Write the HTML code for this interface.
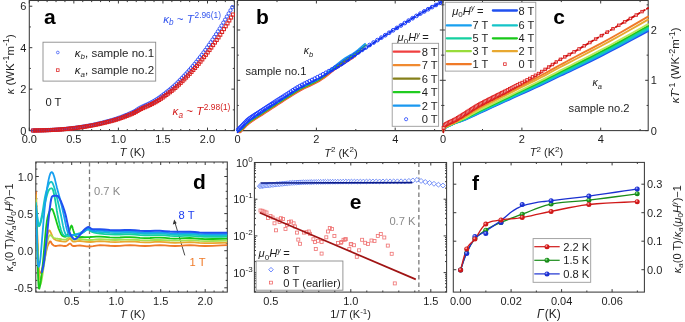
<!DOCTYPE html>
<html><head><meta charset="utf-8"><style>
html,body{margin:0;padding:0;background:#fff;width:685px;height:322px;overflow:hidden}
svg{display:block;font-family:"Liberation Sans",sans-serif;filter:blur(0.3px)}
</style></head><body>
<svg width="685" height="322" viewBox="0 0 685 322">
<defs><clipPath id="clipd"><rect x="35.8" y="162" width="191.5" height="130"/></clipPath></defs>
<rect width="685" height="322" fill="#fff"/>
<rect x="29.30" y="0.50" width="205.10" height="130.10" stroke="#3a3a3a" fill="none" stroke-width="1.05"/>
<line x1="29.30" y1="130.60" x2="29.30" y2="127.60" stroke="#3a3a3a" stroke-width="1" />
<line x1="29.30" y1="0.50" x2="29.30" y2="3.50" stroke="#3a3a3a" stroke-width="1" />
<line x1="73.85" y1="130.60" x2="73.85" y2="127.60" stroke="#3a3a3a" stroke-width="1" />
<line x1="73.85" y1="0.50" x2="73.85" y2="3.50" stroke="#3a3a3a" stroke-width="1" />
<line x1="118.40" y1="130.60" x2="118.40" y2="127.60" stroke="#3a3a3a" stroke-width="1" />
<line x1="118.40" y1="0.50" x2="118.40" y2="3.50" stroke="#3a3a3a" stroke-width="1" />
<line x1="162.95" y1="130.60" x2="162.95" y2="127.60" stroke="#3a3a3a" stroke-width="1" />
<line x1="162.95" y1="0.50" x2="162.95" y2="3.50" stroke="#3a3a3a" stroke-width="1" />
<line x1="207.50" y1="130.60" x2="207.50" y2="127.60" stroke="#3a3a3a" stroke-width="1" />
<line x1="207.50" y1="0.50" x2="207.50" y2="3.50" stroke="#3a3a3a" stroke-width="1" />
<line x1="38.21" y1="130.60" x2="38.21" y2="129.00" stroke="#3a3a3a" stroke-width="1" />
<line x1="38.21" y1="0.50" x2="38.21" y2="2.10" stroke="#3a3a3a" stroke-width="1" />
<line x1="47.12" y1="130.60" x2="47.12" y2="129.00" stroke="#3a3a3a" stroke-width="1" />
<line x1="47.12" y1="0.50" x2="47.12" y2="2.10" stroke="#3a3a3a" stroke-width="1" />
<line x1="56.03" y1="130.60" x2="56.03" y2="129.00" stroke="#3a3a3a" stroke-width="1" />
<line x1="56.03" y1="0.50" x2="56.03" y2="2.10" stroke="#3a3a3a" stroke-width="1" />
<line x1="64.94" y1="130.60" x2="64.94" y2="129.00" stroke="#3a3a3a" stroke-width="1" />
<line x1="64.94" y1="0.50" x2="64.94" y2="2.10" stroke="#3a3a3a" stroke-width="1" />
<line x1="82.76" y1="130.60" x2="82.76" y2="129.00" stroke="#3a3a3a" stroke-width="1" />
<line x1="82.76" y1="0.50" x2="82.76" y2="2.10" stroke="#3a3a3a" stroke-width="1" />
<line x1="91.67" y1="130.60" x2="91.67" y2="129.00" stroke="#3a3a3a" stroke-width="1" />
<line x1="91.67" y1="0.50" x2="91.67" y2="2.10" stroke="#3a3a3a" stroke-width="1" />
<line x1="100.58" y1="130.60" x2="100.58" y2="129.00" stroke="#3a3a3a" stroke-width="1" />
<line x1="100.58" y1="0.50" x2="100.58" y2="2.10" stroke="#3a3a3a" stroke-width="1" />
<line x1="109.49" y1="130.60" x2="109.49" y2="129.00" stroke="#3a3a3a" stroke-width="1" />
<line x1="109.49" y1="0.50" x2="109.49" y2="2.10" stroke="#3a3a3a" stroke-width="1" />
<line x1="127.31" y1="130.60" x2="127.31" y2="129.00" stroke="#3a3a3a" stroke-width="1" />
<line x1="127.31" y1="0.50" x2="127.31" y2="2.10" stroke="#3a3a3a" stroke-width="1" />
<line x1="136.22" y1="130.60" x2="136.22" y2="129.00" stroke="#3a3a3a" stroke-width="1" />
<line x1="136.22" y1="0.50" x2="136.22" y2="2.10" stroke="#3a3a3a" stroke-width="1" />
<line x1="145.13" y1="130.60" x2="145.13" y2="129.00" stroke="#3a3a3a" stroke-width="1" />
<line x1="145.13" y1="0.50" x2="145.13" y2="2.10" stroke="#3a3a3a" stroke-width="1" />
<line x1="154.04" y1="130.60" x2="154.04" y2="129.00" stroke="#3a3a3a" stroke-width="1" />
<line x1="154.04" y1="0.50" x2="154.04" y2="2.10" stroke="#3a3a3a" stroke-width="1" />
<line x1="171.86" y1="130.60" x2="171.86" y2="129.00" stroke="#3a3a3a" stroke-width="1" />
<line x1="171.86" y1="0.50" x2="171.86" y2="2.10" stroke="#3a3a3a" stroke-width="1" />
<line x1="180.77" y1="130.60" x2="180.77" y2="129.00" stroke="#3a3a3a" stroke-width="1" />
<line x1="180.77" y1="0.50" x2="180.77" y2="2.10" stroke="#3a3a3a" stroke-width="1" />
<line x1="189.68" y1="130.60" x2="189.68" y2="129.00" stroke="#3a3a3a" stroke-width="1" />
<line x1="189.68" y1="0.50" x2="189.68" y2="2.10" stroke="#3a3a3a" stroke-width="1" />
<line x1="198.59" y1="130.60" x2="198.59" y2="129.00" stroke="#3a3a3a" stroke-width="1" />
<line x1="198.59" y1="0.50" x2="198.59" y2="2.10" stroke="#3a3a3a" stroke-width="1" />
<line x1="216.41" y1="130.60" x2="216.41" y2="129.00" stroke="#3a3a3a" stroke-width="1" />
<line x1="216.41" y1="0.50" x2="216.41" y2="2.10" stroke="#3a3a3a" stroke-width="1" />
<line x1="225.32" y1="130.60" x2="225.32" y2="129.00" stroke="#3a3a3a" stroke-width="1" />
<line x1="225.32" y1="0.50" x2="225.32" y2="2.10" stroke="#3a3a3a" stroke-width="1" />
<line x1="234.23" y1="130.60" x2="234.23" y2="129.00" stroke="#3a3a3a" stroke-width="1" />
<line x1="234.23" y1="0.50" x2="234.23" y2="2.10" stroke="#3a3a3a" stroke-width="1" />
<line x1="29.30" y1="130.60" x2="32.30" y2="130.60" stroke="#3a3a3a" stroke-width="1" />
<line x1="234.40" y1="130.60" x2="231.40" y2="130.60" stroke="#3a3a3a" stroke-width="1" />
<line x1="29.30" y1="89.14" x2="32.30" y2="89.14" stroke="#3a3a3a" stroke-width="1" />
<line x1="234.40" y1="89.14" x2="231.40" y2="89.14" stroke="#3a3a3a" stroke-width="1" />
<line x1="29.30" y1="47.68" x2="32.30" y2="47.68" stroke="#3a3a3a" stroke-width="1" />
<line x1="234.40" y1="47.68" x2="231.40" y2="47.68" stroke="#3a3a3a" stroke-width="1" />
<line x1="29.30" y1="6.22" x2="32.30" y2="6.22" stroke="#3a3a3a" stroke-width="1" />
<line x1="234.40" y1="6.22" x2="231.40" y2="6.22" stroke="#3a3a3a" stroke-width="1" />
<line x1="29.30" y1="109.87" x2="30.90" y2="109.87" stroke="#3a3a3a" stroke-width="1" />
<line x1="234.40" y1="109.87" x2="232.80" y2="109.87" stroke="#3a3a3a" stroke-width="1" />
<line x1="29.30" y1="68.41" x2="30.90" y2="68.41" stroke="#3a3a3a" stroke-width="1" />
<line x1="234.40" y1="68.41" x2="232.80" y2="68.41" stroke="#3a3a3a" stroke-width="1" />
<line x1="29.30" y1="26.95" x2="30.90" y2="26.95" stroke="#3a3a3a" stroke-width="1" />
<line x1="234.40" y1="26.95" x2="232.80" y2="26.95" stroke="#3a3a3a" stroke-width="1" />
<text x="29.30" y="142.90" font-size="11" text-anchor="middle" fill="#1e1e1e" >0.0</text>
<text x="73.85" y="142.90" font-size="11" text-anchor="middle" fill="#1e1e1e" >0.5</text>
<text x="118.40" y="142.90" font-size="11" text-anchor="middle" fill="#1e1e1e" >1.0</text>
<text x="162.95" y="142.90" font-size="11" text-anchor="middle" fill="#1e1e1e" >1.5</text>
<text x="207.50" y="142.90" font-size="11" text-anchor="middle" fill="#1e1e1e" >2.0</text>
<text x="26.30" y="134.70" font-size="11" text-anchor="end" fill="#1e1e1e" >0</text>
<text x="26.30" y="93.24" font-size="11" text-anchor="end" fill="#1e1e1e" >2</text>
<text x="26.30" y="51.78" font-size="11" text-anchor="end" fill="#1e1e1e" >4</text>
<text x="26.30" y="10.32" font-size="11" text-anchor="end" fill="#1e1e1e" >6</text>
<circle cx="32.50" cy="130.50" r="1.65" fill="none" stroke="#2f4ff5" stroke-width="0.95"/>
<circle cx="34.30" cy="130.46" r="1.65" fill="none" stroke="#2f4ff5" stroke-width="0.95"/>
<circle cx="36.10" cy="130.43" r="1.65" fill="none" stroke="#2f4ff5" stroke-width="0.95"/>
<circle cx="37.90" cy="130.40" r="1.65" fill="none" stroke="#2f4ff5" stroke-width="0.95"/>
<circle cx="39.70" cy="130.36" r="1.65" fill="none" stroke="#2f4ff5" stroke-width="0.95"/>
<circle cx="41.50" cy="130.31" r="1.65" fill="none" stroke="#2f4ff5" stroke-width="0.95"/>
<circle cx="43.30" cy="130.26" r="1.65" fill="none" stroke="#2f4ff5" stroke-width="0.95"/>
<circle cx="45.10" cy="130.20" r="1.65" fill="none" stroke="#2f4ff5" stroke-width="0.95"/>
<circle cx="46.90" cy="130.12" r="1.65" fill="none" stroke="#2f4ff5" stroke-width="0.95"/>
<circle cx="48.70" cy="130.05" r="1.65" fill="none" stroke="#2f4ff5" stroke-width="0.95"/>
<circle cx="50.50" cy="129.97" r="1.65" fill="none" stroke="#2f4ff5" stroke-width="0.95"/>
<circle cx="52.30" cy="129.88" r="1.65" fill="none" stroke="#2f4ff5" stroke-width="0.95"/>
<circle cx="54.10" cy="129.79" r="1.65" fill="none" stroke="#2f4ff5" stroke-width="0.95"/>
<circle cx="55.90" cy="129.68" r="1.65" fill="none" stroke="#2f4ff5" stroke-width="0.95"/>
<circle cx="57.70" cy="129.57" r="1.65" fill="none" stroke="#2f4ff5" stroke-width="0.95"/>
<circle cx="59.50" cy="129.44" r="1.65" fill="none" stroke="#2f4ff5" stroke-width="0.95"/>
<circle cx="61.30" cy="129.29" r="1.65" fill="none" stroke="#2f4ff5" stroke-width="0.95"/>
<circle cx="63.10" cy="129.13" r="1.65" fill="none" stroke="#2f4ff5" stroke-width="0.95"/>
<circle cx="64.90" cy="128.96" r="1.65" fill="none" stroke="#2f4ff5" stroke-width="0.95"/>
<circle cx="66.70" cy="128.78" r="1.65" fill="none" stroke="#2f4ff5" stroke-width="0.95"/>
<circle cx="68.50" cy="128.59" r="1.65" fill="none" stroke="#2f4ff5" stroke-width="0.95"/>
<circle cx="70.30" cy="128.38" r="1.65" fill="none" stroke="#2f4ff5" stroke-width="0.95"/>
<circle cx="72.10" cy="128.17" r="1.65" fill="none" stroke="#2f4ff5" stroke-width="0.95"/>
<circle cx="73.90" cy="127.94" r="1.65" fill="none" stroke="#2f4ff5" stroke-width="0.95"/>
<circle cx="75.70" cy="127.70" r="1.65" fill="none" stroke="#2f4ff5" stroke-width="0.95"/>
<circle cx="77.50" cy="127.46" r="1.65" fill="none" stroke="#2f4ff5" stroke-width="0.95"/>
<circle cx="79.30" cy="127.19" r="1.65" fill="none" stroke="#2f4ff5" stroke-width="0.95"/>
<circle cx="81.10" cy="126.93" r="1.65" fill="none" stroke="#2f4ff5" stroke-width="0.95"/>
<circle cx="82.90" cy="126.64" r="1.65" fill="none" stroke="#2f4ff5" stroke-width="0.95"/>
<circle cx="84.70" cy="126.35" r="1.65" fill="none" stroke="#2f4ff5" stroke-width="0.95"/>
<circle cx="86.50" cy="126.04" r="1.65" fill="none" stroke="#2f4ff5" stroke-width="0.95"/>
<circle cx="88.30" cy="125.71" r="1.65" fill="none" stroke="#2f4ff5" stroke-width="0.95"/>
<circle cx="90.10" cy="125.38" r="1.65" fill="none" stroke="#2f4ff5" stroke-width="0.95"/>
<circle cx="91.90" cy="125.02" r="1.65" fill="none" stroke="#2f4ff5" stroke-width="0.95"/>
<circle cx="93.70" cy="124.65" r="1.65" fill="none" stroke="#2f4ff5" stroke-width="0.95"/>
<circle cx="95.50" cy="124.26" r="1.65" fill="none" stroke="#2f4ff5" stroke-width="0.95"/>
<circle cx="97.30" cy="123.85" r="1.65" fill="none" stroke="#2f4ff5" stroke-width="0.95"/>
<circle cx="99.10" cy="123.42" r="1.65" fill="none" stroke="#2f4ff5" stroke-width="0.95"/>
<circle cx="100.90" cy="122.99" r="1.65" fill="none" stroke="#2f4ff5" stroke-width="0.95"/>
<circle cx="102.70" cy="122.53" r="1.65" fill="none" stroke="#2f4ff5" stroke-width="0.95"/>
<circle cx="104.50" cy="122.07" r="1.65" fill="none" stroke="#2f4ff5" stroke-width="0.95"/>
<circle cx="106.30" cy="121.60" r="1.65" fill="none" stroke="#2f4ff5" stroke-width="0.95"/>
<circle cx="108.10" cy="121.12" r="1.65" fill="none" stroke="#2f4ff5" stroke-width="0.95"/>
<circle cx="109.90" cy="120.63" r="1.65" fill="none" stroke="#2f4ff5" stroke-width="0.95"/>
<circle cx="111.70" cy="120.12" r="1.65" fill="none" stroke="#2f4ff5" stroke-width="0.95"/>
<circle cx="113.50" cy="119.58" r="1.65" fill="none" stroke="#2f4ff5" stroke-width="0.95"/>
<circle cx="115.30" cy="119.03" r="1.65" fill="none" stroke="#2f4ff5" stroke-width="0.95"/>
<circle cx="117.10" cy="118.44" r="1.65" fill="none" stroke="#2f4ff5" stroke-width="0.95"/>
<circle cx="118.90" cy="117.82" r="1.65" fill="none" stroke="#2f4ff5" stroke-width="0.95"/>
<circle cx="120.70" cy="117.15" r="1.65" fill="none" stroke="#2f4ff5" stroke-width="0.95"/>
<circle cx="122.50" cy="116.47" r="1.65" fill="none" stroke="#2f4ff5" stroke-width="0.95"/>
<circle cx="124.30" cy="115.76" r="1.65" fill="none" stroke="#2f4ff5" stroke-width="0.95"/>
<circle cx="126.10" cy="115.02" r="1.65" fill="none" stroke="#2f4ff5" stroke-width="0.95"/>
<circle cx="127.90" cy="114.27" r="1.65" fill="none" stroke="#2f4ff5" stroke-width="0.95"/>
<circle cx="129.70" cy="113.49" r="1.65" fill="none" stroke="#2f4ff5" stroke-width="0.95"/>
<circle cx="131.50" cy="112.69" r="1.65" fill="none" stroke="#2f4ff5" stroke-width="0.95"/>
<circle cx="133.30" cy="111.85" r="1.65" fill="none" stroke="#2f4ff5" stroke-width="0.95"/>
<circle cx="135.10" cy="110.89" r="1.65" fill="none" stroke="#2f4ff5" stroke-width="0.95"/>
<circle cx="136.90" cy="109.69" r="1.65" fill="none" stroke="#2f4ff5" stroke-width="0.95"/>
<circle cx="138.70" cy="108.54" r="1.65" fill="none" stroke="#2f4ff5" stroke-width="0.95"/>
<circle cx="140.50" cy="107.55" r="1.65" fill="none" stroke="#2f4ff5" stroke-width="0.95"/>
<circle cx="142.30" cy="106.66" r="1.65" fill="none" stroke="#2f4ff5" stroke-width="0.95"/>
<circle cx="144.10" cy="105.81" r="1.65" fill="none" stroke="#2f4ff5" stroke-width="0.95"/>
<circle cx="145.90" cy="104.97" r="1.65" fill="none" stroke="#2f4ff5" stroke-width="0.95"/>
<circle cx="147.70" cy="104.13" r="1.65" fill="none" stroke="#2f4ff5" stroke-width="0.95"/>
<circle cx="149.50" cy="103.26" r="1.65" fill="none" stroke="#2f4ff5" stroke-width="0.95"/>
<circle cx="151.30" cy="102.35" r="1.65" fill="none" stroke="#2f4ff5" stroke-width="0.95"/>
<circle cx="153.10" cy="101.38" r="1.65" fill="none" stroke="#2f4ff5" stroke-width="0.95"/>
<circle cx="154.90" cy="100.35" r="1.65" fill="none" stroke="#2f4ff5" stroke-width="0.95"/>
<circle cx="156.70" cy="99.20" r="1.65" fill="none" stroke="#2f4ff5" stroke-width="0.95"/>
<circle cx="158.50" cy="98.01" r="1.65" fill="none" stroke="#2f4ff5" stroke-width="0.95"/>
<circle cx="160.30" cy="96.72" r="1.65" fill="none" stroke="#2f4ff5" stroke-width="0.95"/>
<circle cx="162.10" cy="95.42" r="1.65" fill="none" stroke="#2f4ff5" stroke-width="0.95"/>
<circle cx="163.90" cy="94.04" r="1.65" fill="none" stroke="#2f4ff5" stroke-width="0.95"/>
<circle cx="165.70" cy="92.66" r="1.65" fill="none" stroke="#2f4ff5" stroke-width="0.95"/>
<circle cx="167.50" cy="91.23" r="1.65" fill="none" stroke="#2f4ff5" stroke-width="0.95"/>
<circle cx="169.30" cy="89.78" r="1.65" fill="none" stroke="#2f4ff5" stroke-width="0.95"/>
<circle cx="171.10" cy="88.32" r="1.65" fill="none" stroke="#2f4ff5" stroke-width="0.95"/>
<circle cx="172.90" cy="86.79" r="1.65" fill="none" stroke="#2f4ff5" stroke-width="0.95"/>
<circle cx="174.70" cy="85.17" r="1.65" fill="none" stroke="#2f4ff5" stroke-width="0.95"/>
<circle cx="176.50" cy="83.45" r="1.65" fill="none" stroke="#2f4ff5" stroke-width="0.95"/>
<circle cx="178.30" cy="81.63" r="1.65" fill="none" stroke="#2f4ff5" stroke-width="0.95"/>
<circle cx="180.10" cy="79.80" r="1.65" fill="none" stroke="#2f4ff5" stroke-width="0.95"/>
<circle cx="181.90" cy="77.96" r="1.65" fill="none" stroke="#2f4ff5" stroke-width="0.95"/>
<circle cx="183.70" cy="76.08" r="1.65" fill="none" stroke="#2f4ff5" stroke-width="0.95"/>
<circle cx="185.50" cy="74.17" r="1.65" fill="none" stroke="#2f4ff5" stroke-width="0.95"/>
<circle cx="187.30" cy="72.21" r="1.65" fill="none" stroke="#2f4ff5" stroke-width="0.95"/>
<circle cx="189.10" cy="70.21" r="1.65" fill="none" stroke="#2f4ff5" stroke-width="0.95"/>
<circle cx="190.90" cy="68.16" r="1.65" fill="none" stroke="#2f4ff5" stroke-width="0.95"/>
<circle cx="192.70" cy="66.07" r="1.65" fill="none" stroke="#2f4ff5" stroke-width="0.95"/>
<circle cx="194.50" cy="63.94" r="1.65" fill="none" stroke="#2f4ff5" stroke-width="0.95"/>
<circle cx="196.30" cy="61.76" r="1.65" fill="none" stroke="#2f4ff5" stroke-width="0.95"/>
<circle cx="198.10" cy="59.52" r="1.65" fill="none" stroke="#2f4ff5" stroke-width="0.95"/>
<circle cx="199.90" cy="57.23" r="1.65" fill="none" stroke="#2f4ff5" stroke-width="0.95"/>
<circle cx="201.70" cy="54.87" r="1.65" fill="none" stroke="#2f4ff5" stroke-width="0.95"/>
<circle cx="203.50" cy="52.44" r="1.65" fill="none" stroke="#2f4ff5" stroke-width="0.95"/>
<circle cx="205.30" cy="49.97" r="1.65" fill="none" stroke="#2f4ff5" stroke-width="0.95"/>
<circle cx="207.10" cy="47.45" r="1.65" fill="none" stroke="#2f4ff5" stroke-width="0.95"/>
<circle cx="208.90" cy="44.88" r="1.65" fill="none" stroke="#2f4ff5" stroke-width="0.95"/>
<circle cx="210.70" cy="42.28" r="1.65" fill="none" stroke="#2f4ff5" stroke-width="0.95"/>
<circle cx="212.50" cy="39.63" r="1.65" fill="none" stroke="#2f4ff5" stroke-width="0.95"/>
<circle cx="214.30" cy="36.95" r="1.65" fill="none" stroke="#2f4ff5" stroke-width="0.95"/>
<circle cx="216.10" cy="34.21" r="1.65" fill="none" stroke="#2f4ff5" stroke-width="0.95"/>
<circle cx="217.90" cy="31.43" r="1.65" fill="none" stroke="#2f4ff5" stroke-width="0.95"/>
<circle cx="219.70" cy="28.58" r="1.65" fill="none" stroke="#2f4ff5" stroke-width="0.95"/>
<circle cx="221.50" cy="25.65" r="1.65" fill="none" stroke="#2f4ff5" stroke-width="0.95"/>
<circle cx="223.30" cy="22.65" r="1.65" fill="none" stroke="#2f4ff5" stroke-width="0.95"/>
<circle cx="225.10" cy="19.61" r="1.65" fill="none" stroke="#2f4ff5" stroke-width="0.95"/>
<circle cx="226.90" cy="16.53" r="1.65" fill="none" stroke="#2f4ff5" stroke-width="0.95"/>
<circle cx="228.70" cy="13.44" r="1.65" fill="none" stroke="#2f4ff5" stroke-width="0.95"/>
<circle cx="230.50" cy="10.33" r="1.65" fill="none" stroke="#2f4ff5" stroke-width="0.95"/>
<circle cx="232.30" cy="7.14" r="1.65" fill="none" stroke="#2f4ff5" stroke-width="0.95"/>
<rect x="31.55" y="128.96" width="3.1" height="3.1" fill="none" stroke="#da1c1c" stroke-width="0.95"/>
<rect x="33.35" y="128.92" width="3.1" height="3.1" fill="none" stroke="#da1c1c" stroke-width="0.95"/>
<rect x="35.15" y="128.89" width="3.1" height="3.1" fill="none" stroke="#da1c1c" stroke-width="0.95"/>
<rect x="36.95" y="128.86" width="3.1" height="3.1" fill="none" stroke="#da1c1c" stroke-width="0.95"/>
<rect x="38.75" y="128.82" width="3.1" height="3.1" fill="none" stroke="#da1c1c" stroke-width="0.95"/>
<rect x="40.55" y="128.78" width="3.1" height="3.1" fill="none" stroke="#da1c1c" stroke-width="0.95"/>
<rect x="42.35" y="128.73" width="3.1" height="3.1" fill="none" stroke="#da1c1c" stroke-width="0.95"/>
<rect x="44.15" y="128.67" width="3.1" height="3.1" fill="none" stroke="#da1c1c" stroke-width="0.95"/>
<rect x="45.95" y="128.60" width="3.1" height="3.1" fill="none" stroke="#da1c1c" stroke-width="0.95"/>
<rect x="47.75" y="128.53" width="3.1" height="3.1" fill="none" stroke="#da1c1c" stroke-width="0.95"/>
<rect x="49.55" y="128.46" width="3.1" height="3.1" fill="none" stroke="#da1c1c" stroke-width="0.95"/>
<rect x="51.35" y="128.37" width="3.1" height="3.1" fill="none" stroke="#da1c1c" stroke-width="0.95"/>
<rect x="53.15" y="128.29" width="3.1" height="3.1" fill="none" stroke="#da1c1c" stroke-width="0.95"/>
<rect x="54.95" y="128.19" width="3.1" height="3.1" fill="none" stroke="#da1c1c" stroke-width="0.95"/>
<rect x="56.75" y="128.08" width="3.1" height="3.1" fill="none" stroke="#da1c1c" stroke-width="0.95"/>
<rect x="58.55" y="127.96" width="3.1" height="3.1" fill="none" stroke="#da1c1c" stroke-width="0.95"/>
<rect x="60.35" y="127.82" width="3.1" height="3.1" fill="none" stroke="#da1c1c" stroke-width="0.95"/>
<rect x="62.15" y="127.67" width="3.1" height="3.1" fill="none" stroke="#da1c1c" stroke-width="0.95"/>
<rect x="63.95" y="127.51" width="3.1" height="3.1" fill="none" stroke="#da1c1c" stroke-width="0.95"/>
<rect x="65.75" y="127.34" width="3.1" height="3.1" fill="none" stroke="#da1c1c" stroke-width="0.95"/>
<rect x="67.55" y="127.16" width="3.1" height="3.1" fill="none" stroke="#da1c1c" stroke-width="0.95"/>
<rect x="69.35" y="126.97" width="3.1" height="3.1" fill="none" stroke="#da1c1c" stroke-width="0.95"/>
<rect x="71.15" y="126.77" width="3.1" height="3.1" fill="none" stroke="#da1c1c" stroke-width="0.95"/>
<rect x="72.95" y="126.55" width="3.1" height="3.1" fill="none" stroke="#da1c1c" stroke-width="0.95"/>
<rect x="74.75" y="126.33" width="3.1" height="3.1" fill="none" stroke="#da1c1c" stroke-width="0.95"/>
<rect x="76.55" y="126.09" width="3.1" height="3.1" fill="none" stroke="#da1c1c" stroke-width="0.95"/>
<rect x="78.35" y="125.85" width="3.1" height="3.1" fill="none" stroke="#da1c1c" stroke-width="0.95"/>
<rect x="80.15" y="125.60" width="3.1" height="3.1" fill="none" stroke="#da1c1c" stroke-width="0.95"/>
<rect x="81.95" y="125.33" width="3.1" height="3.1" fill="none" stroke="#da1c1c" stroke-width="0.95"/>
<rect x="83.75" y="125.05" width="3.1" height="3.1" fill="none" stroke="#da1c1c" stroke-width="0.95"/>
<rect x="85.55" y="124.76" width="3.1" height="3.1" fill="none" stroke="#da1c1c" stroke-width="0.95"/>
<rect x="87.35" y="124.46" width="3.1" height="3.1" fill="none" stroke="#da1c1c" stroke-width="0.95"/>
<rect x="89.15" y="124.14" width="3.1" height="3.1" fill="none" stroke="#da1c1c" stroke-width="0.95"/>
<rect x="90.95" y="123.80" width="3.1" height="3.1" fill="none" stroke="#da1c1c" stroke-width="0.95"/>
<rect x="92.75" y="123.45" width="3.1" height="3.1" fill="none" stroke="#da1c1c" stroke-width="0.95"/>
<rect x="94.55" y="123.09" width="3.1" height="3.1" fill="none" stroke="#da1c1c" stroke-width="0.95"/>
<rect x="96.35" y="122.70" width="3.1" height="3.1" fill="none" stroke="#da1c1c" stroke-width="0.95"/>
<rect x="98.15" y="122.31" width="3.1" height="3.1" fill="none" stroke="#da1c1c" stroke-width="0.95"/>
<rect x="99.95" y="121.89" width="3.1" height="3.1" fill="none" stroke="#da1c1c" stroke-width="0.95"/>
<rect x="101.75" y="121.47" width="3.1" height="3.1" fill="none" stroke="#da1c1c" stroke-width="0.95"/>
<rect x="103.55" y="121.03" width="3.1" height="3.1" fill="none" stroke="#da1c1c" stroke-width="0.95"/>
<rect x="105.35" y="120.59" width="3.1" height="3.1" fill="none" stroke="#da1c1c" stroke-width="0.95"/>
<rect x="107.15" y="120.13" width="3.1" height="3.1" fill="none" stroke="#da1c1c" stroke-width="0.95"/>
<rect x="108.95" y="119.68" width="3.1" height="3.1" fill="none" stroke="#da1c1c" stroke-width="0.95"/>
<rect x="110.75" y="119.19" width="3.1" height="3.1" fill="none" stroke="#da1c1c" stroke-width="0.95"/>
<rect x="112.55" y="118.69" width="3.1" height="3.1" fill="none" stroke="#da1c1c" stroke-width="0.95"/>
<rect x="114.35" y="118.18" width="3.1" height="3.1" fill="none" stroke="#da1c1c" stroke-width="0.95"/>
<rect x="116.15" y="117.62" width="3.1" height="3.1" fill="none" stroke="#da1c1c" stroke-width="0.95"/>
<rect x="117.95" y="117.03" width="3.1" height="3.1" fill="none" stroke="#da1c1c" stroke-width="0.95"/>
<rect x="119.75" y="116.41" width="3.1" height="3.1" fill="none" stroke="#da1c1c" stroke-width="0.95"/>
<rect x="121.55" y="115.76" width="3.1" height="3.1" fill="none" stroke="#da1c1c" stroke-width="0.95"/>
<rect x="123.35" y="115.10" width="3.1" height="3.1" fill="none" stroke="#da1c1c" stroke-width="0.95"/>
<rect x="125.15" y="114.40" width="3.1" height="3.1" fill="none" stroke="#da1c1c" stroke-width="0.95"/>
<rect x="126.95" y="113.70" width="3.1" height="3.1" fill="none" stroke="#da1c1c" stroke-width="0.95"/>
<rect x="128.75" y="112.96" width="3.1" height="3.1" fill="none" stroke="#da1c1c" stroke-width="0.95"/>
<rect x="130.55" y="112.21" width="3.1" height="3.1" fill="none" stroke="#da1c1c" stroke-width="0.95"/>
<rect x="132.35" y="111.42" width="3.1" height="3.1" fill="none" stroke="#da1c1c" stroke-width="0.95"/>
<rect x="134.15" y="110.52" width="3.1" height="3.1" fill="none" stroke="#da1c1c" stroke-width="0.95"/>
<rect x="135.95" y="109.39" width="3.1" height="3.1" fill="none" stroke="#da1c1c" stroke-width="0.95"/>
<rect x="137.75" y="108.32" width="3.1" height="3.1" fill="none" stroke="#da1c1c" stroke-width="0.95"/>
<rect x="139.55" y="107.38" width="3.1" height="3.1" fill="none" stroke="#da1c1c" stroke-width="0.95"/>
<rect x="141.35" y="106.54" width="3.1" height="3.1" fill="none" stroke="#da1c1c" stroke-width="0.95"/>
<rect x="143.15" y="105.75" width="3.1" height="3.1" fill="none" stroke="#da1c1c" stroke-width="0.95"/>
<rect x="144.95" y="104.96" width="3.1" height="3.1" fill="none" stroke="#da1c1c" stroke-width="0.95"/>
<rect x="146.75" y="104.17" width="3.1" height="3.1" fill="none" stroke="#da1c1c" stroke-width="0.95"/>
<rect x="148.55" y="103.35" width="3.1" height="3.1" fill="none" stroke="#da1c1c" stroke-width="0.95"/>
<rect x="150.35" y="102.49" width="3.1" height="3.1" fill="none" stroke="#da1c1c" stroke-width="0.95"/>
<rect x="152.15" y="101.58" width="3.1" height="3.1" fill="none" stroke="#da1c1c" stroke-width="0.95"/>
<rect x="153.95" y="100.61" width="3.1" height="3.1" fill="none" stroke="#da1c1c" stroke-width="0.95"/>
<rect x="155.75" y="99.54" width="3.1" height="3.1" fill="none" stroke="#da1c1c" stroke-width="0.95"/>
<rect x="157.55" y="98.41" width="3.1" height="3.1" fill="none" stroke="#da1c1c" stroke-width="0.95"/>
<rect x="159.35" y="97.20" width="3.1" height="3.1" fill="none" stroke="#da1c1c" stroke-width="0.95"/>
<rect x="161.15" y="95.98" width="3.1" height="3.1" fill="none" stroke="#da1c1c" stroke-width="0.95"/>
<rect x="162.95" y="94.69" width="3.1" height="3.1" fill="none" stroke="#da1c1c" stroke-width="0.95"/>
<rect x="164.75" y="93.38" width="3.1" height="3.1" fill="none" stroke="#da1c1c" stroke-width="0.95"/>
<rect x="166.55" y="92.04" width="3.1" height="3.1" fill="none" stroke="#da1c1c" stroke-width="0.95"/>
<rect x="168.35" y="90.68" width="3.1" height="3.1" fill="none" stroke="#da1c1c" stroke-width="0.95"/>
<rect x="170.15" y="89.30" width="3.1" height="3.1" fill="none" stroke="#da1c1c" stroke-width="0.95"/>
<rect x="171.95" y="87.87" width="3.1" height="3.1" fill="none" stroke="#da1c1c" stroke-width="0.95"/>
<rect x="173.75" y="86.35" width="3.1" height="3.1" fill="none" stroke="#da1c1c" stroke-width="0.95"/>
<rect x="175.55" y="84.72" width="3.1" height="3.1" fill="none" stroke="#da1c1c" stroke-width="0.95"/>
<rect x="177.35" y="83.02" width="3.1" height="3.1" fill="none" stroke="#da1c1c" stroke-width="0.95"/>
<rect x="179.15" y="81.30" width="3.1" height="3.1" fill="none" stroke="#da1c1c" stroke-width="0.95"/>
<rect x="180.95" y="79.57" width="3.1" height="3.1" fill="none" stroke="#da1c1c" stroke-width="0.95"/>
<rect x="182.75" y="77.80" width="3.1" height="3.1" fill="none" stroke="#da1c1c" stroke-width="0.95"/>
<rect x="184.55" y="76.00" width="3.1" height="3.1" fill="none" stroke="#da1c1c" stroke-width="0.95"/>
<rect x="186.35" y="74.17" width="3.1" height="3.1" fill="none" stroke="#da1c1c" stroke-width="0.95"/>
<rect x="188.15" y="72.28" width="3.1" height="3.1" fill="none" stroke="#da1c1c" stroke-width="0.95"/>
<rect x="189.95" y="70.36" width="3.1" height="3.1" fill="none" stroke="#da1c1c" stroke-width="0.95"/>
<rect x="191.75" y="68.39" width="3.1" height="3.1" fill="none" stroke="#da1c1c" stroke-width="0.95"/>
<rect x="193.55" y="66.39" width="3.1" height="3.1" fill="none" stroke="#da1c1c" stroke-width="0.95"/>
<rect x="195.35" y="64.34" width="3.1" height="3.1" fill="none" stroke="#da1c1c" stroke-width="0.95"/>
<rect x="197.15" y="62.24" width="3.1" height="3.1" fill="none" stroke="#da1c1c" stroke-width="0.95"/>
<rect x="198.95" y="60.08" width="3.1" height="3.1" fill="none" stroke="#da1c1c" stroke-width="0.95"/>
<rect x="200.75" y="57.86" width="3.1" height="3.1" fill="none" stroke="#da1c1c" stroke-width="0.95"/>
<rect x="202.55" y="55.58" width="3.1" height="3.1" fill="none" stroke="#da1c1c" stroke-width="0.95"/>
<rect x="204.35" y="53.26" width="3.1" height="3.1" fill="none" stroke="#da1c1c" stroke-width="0.95"/>
<rect x="206.15" y="50.89" width="3.1" height="3.1" fill="none" stroke="#da1c1c" stroke-width="0.95"/>
<rect x="207.95" y="48.48" width="3.1" height="3.1" fill="none" stroke="#da1c1c" stroke-width="0.95"/>
<rect x="209.75" y="46.03" width="3.1" height="3.1" fill="none" stroke="#da1c1c" stroke-width="0.95"/>
<rect x="211.55" y="43.54" width="3.1" height="3.1" fill="none" stroke="#da1c1c" stroke-width="0.95"/>
<rect x="213.35" y="41.02" width="3.1" height="3.1" fill="none" stroke="#da1c1c" stroke-width="0.95"/>
<rect x="215.15" y="38.45" width="3.1" height="3.1" fill="none" stroke="#da1c1c" stroke-width="0.95"/>
<rect x="216.95" y="35.83" width="3.1" height="3.1" fill="none" stroke="#da1c1c" stroke-width="0.95"/>
<rect x="218.75" y="33.15" width="3.1" height="3.1" fill="none" stroke="#da1c1c" stroke-width="0.95"/>
<rect x="220.55" y="30.39" width="3.1" height="3.1" fill="none" stroke="#da1c1c" stroke-width="0.95"/>
<rect x="222.35" y="27.58" width="3.1" height="3.1" fill="none" stroke="#da1c1c" stroke-width="0.95"/>
<rect x="224.15" y="24.72" width="3.1" height="3.1" fill="none" stroke="#da1c1c" stroke-width="0.95"/>
<rect x="225.95" y="21.83" width="3.1" height="3.1" fill="none" stroke="#da1c1c" stroke-width="0.95"/>
<rect x="227.75" y="18.92" width="3.1" height="3.1" fill="none" stroke="#da1c1c" stroke-width="0.95"/>
<rect x="229.55" y="16.00" width="3.1" height="3.1" fill="none" stroke="#da1c1c" stroke-width="0.95"/>
<rect x="231.35" y="13.00" width="3.1" height="3.1" fill="none" stroke="#da1c1c" stroke-width="0.95"/>
<text x="44.00" y="24.00" font-size="21" fill="#000" font-weight="bold" >a</text>
<text x="45.40" y="106.30" font-size="11.2" fill="#1e1e1e" >0 T</text>
<rect x="43.00" y="42.20" width="112.70" height="38.90" stroke="#8a8a8a" fill="#fff" stroke-width="0.9"/>
<circle cx="57.8" cy="52.5" r="1.35" fill="#fff" stroke="#3050f5" stroke-width="0.75"/>
<rect x="56.5" y="68.8" width="2.6" height="2.6" fill="#fff" stroke="#dc1e1e" stroke-width="0.75"/>
<text x="74.8" y="56.5" font-size="11.5" fill="#1e1e1e"><tspan font-style="italic">κ</tspan><tspan font-size="8" dy="2.6" font-style="italic">b</tspan><tspan dy="-2.6">, sample no.1</tspan></text>
<text x="74.8" y="74.0" font-size="11.5" fill="#1e1e1e"><tspan font-style="italic">κ</tspan><tspan font-size="8" dy="2.6" font-style="italic">a</tspan><tspan dy="-2.6">, sample no.2</tspan></text>
<text x="163.2" y="22.6" font-size="11.6" fill="#3355ee"><tspan font-style="italic">κ</tspan><tspan font-size="8.2" dy="2.8" font-style="italic">b</tspan><tspan dy="-2.8"> ~ </tspan><tspan font-style="italic">T</tspan><tspan font-size="8.4" dy="-4.8" dx="0.6">2.96(1)</tspan></text>
<text x="172.6" y="115.1" font-size="11.6" fill="#d42020"><tspan font-style="italic">κ</tspan><tspan font-size="8.2" dy="2.8" font-style="italic">a</tspan><tspan dy="-2.8"> ~ </tspan><tspan font-style="italic">T</tspan><tspan font-size="8.4" dy="-4.8" dx="0.6">2.98(1)</tspan></text>
<text transform="translate(13.7,94.3) rotate(-90)" font-size="11.3" fill="#1e1e1e"><tspan font-style="italic">κ</tspan> (WK<tspan font-size="9" dy="-4.6">-1</tspan><tspan dy="4.6">m</tspan><tspan font-size="9" dy="-4.6">-1</tspan><tspan dy="4.6">)</tspan></text>
<text x="119.6" y="156.3" font-size="11.5" fill="#1e1e1e"><tspan font-style="italic">T</tspan> (K)</text>
<line x1="237.20" y1="0.50" x2="442.80" y2="0.50" stroke="#3a3a3a" stroke-width="1.05" />
<line x1="237.20" y1="130.60" x2="442.80" y2="130.60" stroke="#3a3a3a" stroke-width="1.05" />
<line x1="237.20" y1="0.50" x2="237.20" y2="130.60" stroke="#3a3a3a" stroke-width="1.05" />
<line x1="237.60" y1="130.60" x2="237.60" y2="127.60" stroke="#3a3a3a" stroke-width="1" />
<line x1="237.60" y1="0.50" x2="237.60" y2="3.50" stroke="#3a3a3a" stroke-width="1" />
<line x1="316.40" y1="130.60" x2="316.40" y2="127.60" stroke="#3a3a3a" stroke-width="1" />
<line x1="316.40" y1="0.50" x2="316.40" y2="3.50" stroke="#3a3a3a" stroke-width="1" />
<line x1="395.20" y1="130.60" x2="395.20" y2="127.60" stroke="#3a3a3a" stroke-width="1" />
<line x1="395.20" y1="0.50" x2="395.20" y2="3.50" stroke="#3a3a3a" stroke-width="1" />
<line x1="277.00" y1="130.60" x2="277.00" y2="129.00" stroke="#3a3a3a" stroke-width="1" />
<line x1="277.00" y1="0.50" x2="277.00" y2="2.10" stroke="#3a3a3a" stroke-width="1" />
<line x1="355.80" y1="130.60" x2="355.80" y2="129.00" stroke="#3a3a3a" stroke-width="1" />
<line x1="355.80" y1="0.50" x2="355.80" y2="2.10" stroke="#3a3a3a" stroke-width="1" />
<line x1="434.60" y1="130.60" x2="434.60" y2="129.00" stroke="#3a3a3a" stroke-width="1" />
<line x1="434.60" y1="0.50" x2="434.60" y2="2.10" stroke="#3a3a3a" stroke-width="1" />
<line x1="237.20" y1="80.30" x2="240.20" y2="80.30" stroke="#3a3a3a" stroke-width="1" />
<line x1="442.80" y1="80.30" x2="439.80" y2="80.30" stroke="#3a3a3a" stroke-width="1" />
<line x1="237.20" y1="30.00" x2="240.20" y2="30.00" stroke="#3a3a3a" stroke-width="1" />
<line x1="442.80" y1="30.00" x2="439.80" y2="30.00" stroke="#3a3a3a" stroke-width="1" />
<line x1="237.20" y1="105.45" x2="238.80" y2="105.45" stroke="#3a3a3a" stroke-width="1" />
<line x1="442.80" y1="105.45" x2="441.20" y2="105.45" stroke="#3a3a3a" stroke-width="1" />
<line x1="237.20" y1="55.15" x2="238.80" y2="55.15" stroke="#3a3a3a" stroke-width="1" />
<line x1="442.80" y1="55.15" x2="441.20" y2="55.15" stroke="#3a3a3a" stroke-width="1" />
<line x1="237.20" y1="4.85" x2="238.80" y2="4.85" stroke="#3a3a3a" stroke-width="1" />
<line x1="442.80" y1="4.85" x2="441.20" y2="4.85" stroke="#3a3a3a" stroke-width="1" />
<text x="237.60" y="142.90" font-size="11" text-anchor="middle" fill="#1e1e1e" >0</text>
<text x="316.40" y="142.90" font-size="11" text-anchor="middle" fill="#1e1e1e" >2</text>
<text x="395.20" y="142.90" font-size="11" text-anchor="middle" fill="#1e1e1e" >4</text>
<text x="324.20" y="156.60" font-size="11" fill="#1e1e1e"><tspan font-style="italic">T</tspan><tspan font-size="8" dy="-4.6">2</tspan><tspan dy="4.6"> (K</tspan><tspan font-size="8" dy="-4.6">2</tspan><tspan dy="4.6">)</tspan></text>
<text x="256.00" y="24.00" font-size="21" fill="#000" font-weight="bold" >b</text>
<text x="245.50" y="75.20" font-size="11.2" fill="#1e1e1e" >sample no.1</text>
<text x="303.8" y="54.4" font-size="10.5" fill="#1e1e1e"><tspan font-style="italic">κ</tspan><tspan font-size="7.5" dy="2.6" font-style="italic">b</tspan></text>
<polyline points="237.80,130.60 238.18,131.04 238.71,131.69 239.34,132.25 240.00,132.40 240.62,132.06 241.26,131.38 242.02,130.47 243.00,129.40 244.12,128.19 245.38,126.80 246.94,125.23 249.00,123.50 251.76,121.54 255.06,119.36 258.59,117.11 262.00,114.90 265.25,112.76 268.50,110.63 271.75,108.51 275.00,106.40 278.27,104.29 281.56,102.19 284.82,100.11 288.00,98.10 290.88,96.23 293.56,94.46 296.46,92.63 300.00,90.60 304.55,88.31 309.81,85.84 315.16,83.25 320.00,80.60 324.22,77.75 328.12,74.73 331.72,71.82 335.00,69.30 337.90,67.30 340.44,65.64 342.76,64.19 345.00,62.80 347.33,61.37 349.62,59.99 351.61,58.82 353.00,58.00" fill="none" stroke="#f04040" stroke-width="1.8" stroke-linejoin="round" stroke-linecap="round" />
<polyline points="237.80,130.60 238.18,130.91 238.71,131.39 239.34,131.77 240.00,131.80 240.62,131.41 241.26,130.74 242.02,129.85 243.00,128.80 244.12,127.59 245.38,126.20 246.94,124.63 249.00,122.90 251.76,120.94 255.06,118.76 258.59,116.51 262.00,114.30 265.25,112.16 268.50,110.03 271.75,107.91 275.00,105.80 278.27,103.69 281.56,101.59 284.82,99.51 288.00,97.50 290.88,95.63 293.56,93.86 296.46,92.03 300.00,90.00 304.55,87.71 309.81,85.24 315.16,82.66 320.00,80.00 324.22,77.14 328.12,74.09 331.72,71.15 335.00,68.60 337.85,66.58 340.31,64.92 342.62,63.45 345.00,62.00 347.73,60.44 350.62,58.89 353.20,57.54 355.00,56.60" fill="none" stroke="#f08a30" stroke-width="1.8" stroke-linejoin="round" stroke-linecap="round" />
<polyline points="237.80,130.60 238.18,130.79 238.71,131.09 239.34,131.29 240.00,131.20 240.62,130.77 241.26,130.11 242.02,129.24 243.00,128.20 244.12,126.99 245.38,125.60 246.94,124.03 249.00,122.30 251.76,120.34 255.06,118.16 258.59,115.91 262.00,113.70 265.25,111.56 268.50,109.43 271.75,107.31 275.00,105.20 278.27,103.09 281.56,100.99 284.82,98.91 288.00,96.90 290.88,95.03 293.56,93.26 296.46,91.43 300.00,89.40 304.55,87.11 309.81,84.66 315.16,82.07 320.00,79.40 324.22,76.50 328.12,73.40 331.72,70.40 335.00,67.80 337.85,65.73 340.31,64.02 342.62,62.50 345.00,61.00 347.57,59.52 350.19,58.14 352.71,56.81 355.00,55.50 357.12,54.10 359.12,52.66 360.81,51.39 362.00,50.50" fill="none" stroke="#85801a" stroke-width="1.8" stroke-linejoin="round" stroke-linecap="round" />
<polyline points="237.80,130.60 238.18,130.67 238.71,130.79 239.34,130.81 240.00,130.60 240.62,130.13 241.26,129.47 242.02,128.62 243.00,127.60 244.12,126.39 245.38,125.00 246.94,123.43 249.00,121.70 251.76,119.74 255.06,117.56 258.59,115.31 262.00,113.10 265.25,110.96 268.50,108.83 271.75,106.71 275.00,104.60 278.27,102.49 281.56,100.39 284.82,98.31 288.00,96.30 290.88,94.43 293.56,92.66 296.46,90.83 300.00,88.80 304.55,86.52 309.81,84.08 315.16,81.50 320.00,78.80 324.22,75.84 328.12,72.64 331.72,69.53 335.00,66.80 337.85,64.57 340.31,62.66 342.62,60.95 345.00,59.30 347.48,57.79 349.94,56.46 352.43,55.10 355.00,53.50 357.94,51.37 361.12,48.89 364.00,46.59 366.00,45.00" fill="none" stroke="#20cc20" stroke-width="1.8" stroke-linejoin="round" stroke-linecap="round" />
<polyline points="237.80,130.60 238.18,130.55 238.71,130.49 239.34,130.33 240.00,130.00 240.62,129.49 241.26,128.83 242.02,128.01 243.00,127.00 244.12,125.79 245.38,124.40 246.94,122.83 249.00,121.10 251.76,119.14 255.06,116.96 258.59,114.71 262.00,112.50 265.25,110.36 268.50,108.23 271.75,106.11 275.00,104.00 278.27,101.89 281.56,99.79 284.82,97.71 288.00,95.70 290.88,93.83 293.56,92.06 296.46,90.23 300.00,88.20 304.55,85.93 309.81,83.49 315.16,80.91 320.00,78.20 324.22,75.20 328.12,71.96 331.72,68.79 335.00,66.00 337.85,63.72 340.31,61.76 342.62,60.00 345.00,58.30 347.50,56.74 350.00,55.35 352.50,53.94 355.00,52.30 357.73,50.15 360.62,47.67 363.20,45.39 365.00,43.80" fill="none" stroke="#1a98f0" stroke-width="1.8" stroke-linejoin="round" stroke-linecap="round" />
<polyline points="237.60,132.10 238.02,131.66 238.61,131.04 239.30,130.32 240.00,129.60 240.64,128.95 241.28,128.31 242.03,127.57 243.00,126.60 244.12,125.39 245.38,124.00 246.94,122.43 249.00,120.70 251.76,118.74 255.06,116.56 258.59,114.31 262.00,112.10 265.25,109.96 268.50,107.83 271.75,105.71 275.00,103.60 278.27,101.49 281.56,99.39 284.82,97.31 288.00,95.30 290.88,93.43 293.56,91.66 296.46,89.83 300.00,87.80 304.44,85.50 309.50,83.03 314.81,80.44 320.00,77.80 325.23,74.85 330.62,71.73 335.70,68.71 340.00,66.09 343.09,64.07 345.31,62.47 347.38,60.92 350.00,59.03 353.40,56.65 357.19,54.01 361.13,51.28 365.00,48.64 368.63,46.21 372.19,43.86 375.90,41.44 380.00,38.76 384.65,35.72 389.69,32.43 394.88,29.17 400.00,26.00 404.96,22.92 409.91,19.86 414.89,16.81 420.00,13.80 425.77,10.55 432.00,7.14 437.60,4.11 441.50,2.00" fill="none" stroke="#1030e0" stroke-width="2.0" stroke-linejoin="round" stroke-linecap="round" stroke-dasharray="4,2.5"/>
<circle cx="238.20" cy="129.67" r="1.85" fill="none" stroke="#1c3cff" stroke-width="1.0"/>
<circle cx="239.21" cy="128.61" r="1.85" fill="none" stroke="#1c3cff" stroke-width="1.0"/>
<circle cx="240.25" cy="127.55" r="1.85" fill="none" stroke="#1c3cff" stroke-width="1.0"/>
<circle cx="241.31" cy="126.48" r="1.85" fill="none" stroke="#1c3cff" stroke-width="1.0"/>
<circle cx="242.39" cy="125.41" r="1.85" fill="none" stroke="#1c3cff" stroke-width="1.0"/>
<circle cx="243.49" cy="124.27" r="1.85" fill="none" stroke="#1c3cff" stroke-width="1.0"/>
<circle cx="244.62" cy="123.04" r="1.85" fill="none" stroke="#1c3cff" stroke-width="1.0"/>
<circle cx="245.78" cy="121.80" r="1.85" fill="none" stroke="#1c3cff" stroke-width="1.0"/>
<circle cx="246.96" cy="120.62" r="1.85" fill="none" stroke="#1c3cff" stroke-width="1.0"/>
<circle cx="248.16" cy="119.60" r="1.85" fill="none" stroke="#1c3cff" stroke-width="1.0"/>
<circle cx="249.40" cy="118.62" r="1.85" fill="none" stroke="#1c3cff" stroke-width="1.0"/>
<circle cx="250.66" cy="117.72" r="1.85" fill="none" stroke="#1c3cff" stroke-width="1.0"/>
<circle cx="251.94" cy="116.82" r="1.85" fill="none" stroke="#1c3cff" stroke-width="1.0"/>
<circle cx="253.26" cy="115.95" r="1.85" fill="none" stroke="#1c3cff" stroke-width="1.0"/>
<circle cx="254.60" cy="115.06" r="1.85" fill="none" stroke="#1c3cff" stroke-width="1.0"/>
<circle cx="255.98" cy="114.18" r="1.85" fill="none" stroke="#1c3cff" stroke-width="1.0"/>
<circle cx="257.38" cy="113.28" r="1.85" fill="none" stroke="#1c3cff" stroke-width="1.0"/>
<circle cx="258.82" cy="112.36" r="1.85" fill="none" stroke="#1c3cff" stroke-width="1.0"/>
<circle cx="260.28" cy="111.41" r="1.85" fill="none" stroke="#1c3cff" stroke-width="1.0"/>
<circle cx="261.78" cy="110.44" r="1.85" fill="none" stroke="#1c3cff" stroke-width="1.0"/>
<circle cx="263.31" cy="109.44" r="1.85" fill="none" stroke="#1c3cff" stroke-width="1.0"/>
<circle cx="264.88" cy="108.41" r="1.85" fill="none" stroke="#1c3cff" stroke-width="1.0"/>
<circle cx="266.48" cy="107.36" r="1.85" fill="none" stroke="#1c3cff" stroke-width="1.0"/>
<circle cx="268.12" cy="106.28" r="1.85" fill="none" stroke="#1c3cff" stroke-width="1.0"/>
<circle cx="269.79" cy="105.19" r="1.85" fill="none" stroke="#1c3cff" stroke-width="1.0"/>
<circle cx="271.50" cy="104.08" r="1.85" fill="none" stroke="#1c3cff" stroke-width="1.0"/>
<circle cx="273.24" cy="102.94" r="1.85" fill="none" stroke="#1c3cff" stroke-width="1.0"/>
<circle cx="275.02" cy="101.78" r="1.85" fill="none" stroke="#1c3cff" stroke-width="1.0"/>
<circle cx="276.85" cy="100.61" r="1.85" fill="none" stroke="#1c3cff" stroke-width="1.0"/>
<circle cx="278.71" cy="99.41" r="1.85" fill="none" stroke="#1c3cff" stroke-width="1.0"/>
<circle cx="280.62" cy="98.19" r="1.85" fill="none" stroke="#1c3cff" stroke-width="1.0"/>
<circle cx="282.56" cy="96.95" r="1.85" fill="none" stroke="#1c3cff" stroke-width="1.0"/>
<circle cx="284.55" cy="95.69" r="1.85" fill="none" stroke="#1c3cff" stroke-width="1.0"/>
<circle cx="286.58" cy="94.40" r="1.85" fill="none" stroke="#1c3cff" stroke-width="1.0"/>
<circle cx="288.66" cy="93.07" r="1.85" fill="none" stroke="#1c3cff" stroke-width="1.0"/>
<circle cx="290.79" cy="91.69" r="1.85" fill="none" stroke="#1c3cff" stroke-width="1.0"/>
<circle cx="292.96" cy="90.26" r="1.85" fill="none" stroke="#1c3cff" stroke-width="1.0"/>
<circle cx="295.17" cy="88.84" r="1.85" fill="none" stroke="#1c3cff" stroke-width="1.0"/>
<circle cx="297.44" cy="87.47" r="1.85" fill="none" stroke="#1c3cff" stroke-width="1.0"/>
<circle cx="299.76" cy="86.14" r="1.85" fill="none" stroke="#1c3cff" stroke-width="1.0"/>
<circle cx="302.12" cy="84.90" r="1.85" fill="none" stroke="#1c3cff" stroke-width="1.0"/>
<circle cx="304.54" cy="83.65" r="1.85" fill="none" stroke="#1c3cff" stroke-width="1.0"/>
<circle cx="307.02" cy="82.44" r="1.85" fill="none" stroke="#1c3cff" stroke-width="1.0"/>
<circle cx="309.54" cy="81.21" r="1.85" fill="none" stroke="#1c3cff" stroke-width="1.0"/>
<circle cx="312.13" cy="79.95" r="1.85" fill="none" stroke="#1c3cff" stroke-width="1.0"/>
<circle cx="314.77" cy="78.67" r="1.85" fill="none" stroke="#1c3cff" stroke-width="1.0"/>
<circle cx="317.46" cy="77.29" r="1.85" fill="none" stroke="#1c3cff" stroke-width="1.0"/>
<circle cx="320.22" cy="75.88" r="1.85" fill="none" stroke="#1c3cff" stroke-width="1.0"/>
<circle cx="323.04" cy="74.36" r="1.85" fill="none" stroke="#1c3cff" stroke-width="1.0"/>
<circle cx="325.92" cy="72.80" r="1.85" fill="none" stroke="#1c3cff" stroke-width="1.0"/>
<circle cx="328.86" cy="71.18" r="1.85" fill="none" stroke="#1c3cff" stroke-width="1.0"/>
<circle cx="331.87" cy="69.49" r="1.85" fill="none" stroke="#1c3cff" stroke-width="1.0"/>
<circle cx="334.94" cy="67.75" r="1.85" fill="none" stroke="#1c3cff" stroke-width="1.0"/>
<circle cx="338.08" cy="65.92" r="1.85" fill="none" stroke="#1c3cff" stroke-width="1.0"/>
<circle cx="341.29" cy="63.99" r="1.85" fill="none" stroke="#1c3cff" stroke-width="1.0"/>
<circle cx="344.58" cy="61.83" r="1.85" fill="none" stroke="#1c3cff" stroke-width="1.0"/>
<circle cx="347.93" cy="59.44" r="1.85" fill="none" stroke="#1c3cff" stroke-width="1.0"/>
<circle cx="351.36" cy="57.09" r="1.85" fill="none" stroke="#1c3cff" stroke-width="1.0"/>
<circle cx="354.86" cy="54.73" r="1.85" fill="none" stroke="#1c3cff" stroke-width="1.0"/>
<circle cx="358.44" cy="52.33" r="1.85" fill="none" stroke="#1c3cff" stroke-width="1.0"/>
<circle cx="362.10" cy="49.91" r="1.85" fill="none" stroke="#1c3cff" stroke-width="1.0"/>
<circle cx="365.84" cy="47.46" r="1.85" fill="none" stroke="#1c3cff" stroke-width="1.0"/>
<circle cx="369.66" cy="45.01" r="1.85" fill="none" stroke="#1c3cff" stroke-width="1.0"/>
<circle cx="373.56" cy="42.55" r="1.85" fill="none" stroke="#1c3cff" stroke-width="1.0"/>
<circle cx="377.46" cy="40.10" r="1.85" fill="none" stroke="#1c3cff" stroke-width="1.0"/>
<circle cx="381.36" cy="37.65" r="1.85" fill="none" stroke="#1c3cff" stroke-width="1.0"/>
<circle cx="385.26" cy="35.20" r="1.85" fill="none" stroke="#1c3cff" stroke-width="1.0"/>
<circle cx="389.16" cy="32.75" r="1.85" fill="none" stroke="#1c3cff" stroke-width="1.0"/>
<circle cx="393.06" cy="30.31" r="1.85" fill="none" stroke="#1c3cff" stroke-width="1.0"/>
<circle cx="396.96" cy="27.89" r="1.85" fill="none" stroke="#1c3cff" stroke-width="1.0"/>
<circle cx="400.86" cy="25.47" r="1.85" fill="none" stroke="#1c3cff" stroke-width="1.0"/>
<circle cx="404.76" cy="23.05" r="1.85" fill="none" stroke="#1c3cff" stroke-width="1.0"/>
<circle cx="408.66" cy="20.63" r="1.85" fill="none" stroke="#1c3cff" stroke-width="1.0"/>
<circle cx="412.56" cy="18.24" r="1.85" fill="none" stroke="#1c3cff" stroke-width="1.0"/>
<circle cx="416.46" cy="15.89" r="1.85" fill="none" stroke="#1c3cff" stroke-width="1.0"/>
<circle cx="420.36" cy="13.60" r="1.85" fill="none" stroke="#1c3cff" stroke-width="1.0"/>
<circle cx="424.26" cy="11.40" r="1.85" fill="none" stroke="#1c3cff" stroke-width="1.0"/>
<circle cx="428.16" cy="9.24" r="1.85" fill="none" stroke="#1c3cff" stroke-width="1.0"/>
<circle cx="432.06" cy="7.11" r="1.85" fill="none" stroke="#1c3cff" stroke-width="1.0"/>
<circle cx="435.96" cy="5.00" r="1.85" fill="none" stroke="#1c3cff" stroke-width="1.0"/>
<circle cx="439.86" cy="2.89" r="1.85" fill="none" stroke="#1c3cff" stroke-width="1.0"/>
<text x="397.60" y="41.30" font-size="11.2" fill="#1e1e1e"><tspan font-style="italic">μ</tspan><tspan font-size="8" dy="2.6">0</tspan><tspan dy="-2.6" font-style="italic">H</tspan><tspan font-size="7" dy="-4.6" font-style="italic">y</tspan><tspan dy="4.6" dx="-0.6"> =</tspan></text>
<rect x="392.20" y="43.30" width="46.40" height="83.00" stroke="#9a9a9a" fill="#fff" stroke-width="0.9"/>
<line x1="393.80" y1="51.70" x2="419.40" y2="51.70" stroke="#f04040" stroke-width="2.3" stroke-linecap="round"/>
<text x="437.60" y="55.80" font-size="11.2" text-anchor="end" fill="#1e1e1e" >8 T</text>
<line x1="393.80" y1="65.20" x2="419.40" y2="65.20" stroke="#f08a30" stroke-width="2.3" stroke-linecap="round"/>
<text x="437.60" y="69.30" font-size="11.2" text-anchor="end" fill="#1e1e1e" >7 T</text>
<line x1="393.80" y1="78.70" x2="419.40" y2="78.70" stroke="#85801a" stroke-width="2.3" stroke-linecap="round"/>
<text x="437.60" y="82.80" font-size="11.2" text-anchor="end" fill="#1e1e1e" >6 T</text>
<line x1="393.80" y1="92.20" x2="419.40" y2="92.20" stroke="#20cc20" stroke-width="2.3" stroke-linecap="round"/>
<text x="437.60" y="96.30" font-size="11.2" text-anchor="end" fill="#1e1e1e" >4 T</text>
<line x1="393.80" y1="105.70" x2="419.40" y2="105.70" stroke="#1a98f0" stroke-width="2.3" stroke-linecap="round"/>
<text x="437.60" y="109.80" font-size="11.2" text-anchor="end" fill="#1e1e1e" >2 T</text>
<circle cx="406.1" cy="119.20" r="1.6" fill="#fff" stroke="#3050ff" stroke-width="0.85"/>
<text x="437.60" y="123.30" font-size="11.2" text-anchor="end" fill="#1e1e1e" >0 T</text>
<rect x="442.80" y="0.50" width="205.40" height="130.10" stroke="#3a3a3a" fill="none" stroke-width="1.05"/>
<line x1="443.10" y1="130.60" x2="443.10" y2="127.60" stroke="#3a3a3a" stroke-width="1" />
<line x1="443.10" y1="0.50" x2="443.10" y2="3.50" stroke="#3a3a3a" stroke-width="1" />
<line x1="521.90" y1="130.60" x2="521.90" y2="127.60" stroke="#3a3a3a" stroke-width="1" />
<line x1="521.90" y1="0.50" x2="521.90" y2="3.50" stroke="#3a3a3a" stroke-width="1" />
<line x1="600.70" y1="130.60" x2="600.70" y2="127.60" stroke="#3a3a3a" stroke-width="1" />
<line x1="600.70" y1="0.50" x2="600.70" y2="3.50" stroke="#3a3a3a" stroke-width="1" />
<line x1="482.50" y1="130.60" x2="482.50" y2="129.00" stroke="#3a3a3a" stroke-width="1" />
<line x1="482.50" y1="0.50" x2="482.50" y2="2.10" stroke="#3a3a3a" stroke-width="1" />
<line x1="561.30" y1="130.60" x2="561.30" y2="129.00" stroke="#3a3a3a" stroke-width="1" />
<line x1="561.30" y1="0.50" x2="561.30" y2="2.10" stroke="#3a3a3a" stroke-width="1" />
<line x1="640.10" y1="130.60" x2="640.10" y2="129.00" stroke="#3a3a3a" stroke-width="1" />
<line x1="640.10" y1="0.50" x2="640.10" y2="2.10" stroke="#3a3a3a" stroke-width="1" />
<line x1="442.80" y1="130.60" x2="445.80" y2="130.60" stroke="#3a3a3a" stroke-width="1" />
<line x1="648.20" y1="130.60" x2="645.20" y2="130.60" stroke="#3a3a3a" stroke-width="1" />
<line x1="442.80" y1="80.30" x2="445.80" y2="80.30" stroke="#3a3a3a" stroke-width="1" />
<line x1="648.20" y1="80.30" x2="645.20" y2="80.30" stroke="#3a3a3a" stroke-width="1" />
<line x1="442.80" y1="30.00" x2="445.80" y2="30.00" stroke="#3a3a3a" stroke-width="1" />
<line x1="648.20" y1="30.00" x2="645.20" y2="30.00" stroke="#3a3a3a" stroke-width="1" />
<line x1="442.80" y1="105.45" x2="444.40" y2="105.45" stroke="#3a3a3a" stroke-width="1" />
<line x1="648.20" y1="105.45" x2="646.60" y2="105.45" stroke="#3a3a3a" stroke-width="1" />
<line x1="442.80" y1="55.15" x2="444.40" y2="55.15" stroke="#3a3a3a" stroke-width="1" />
<line x1="648.20" y1="55.15" x2="646.60" y2="55.15" stroke="#3a3a3a" stroke-width="1" />
<line x1="442.80" y1="4.85" x2="444.40" y2="4.85" stroke="#3a3a3a" stroke-width="1" />
<line x1="648.20" y1="4.85" x2="646.60" y2="4.85" stroke="#3a3a3a" stroke-width="1" />
<text x="443.10" y="142.90" font-size="11" text-anchor="middle" fill="#1e1e1e" >0</text>
<text x="521.90" y="142.90" font-size="11" text-anchor="middle" fill="#1e1e1e" >2</text>
<text x="600.70" y="142.90" font-size="11" text-anchor="middle" fill="#1e1e1e" >4</text>
<text x="650.80" y="134.70" font-size="11" fill="#1e1e1e" >0</text>
<text x="650.80" y="84.40" font-size="11" fill="#1e1e1e" >1</text>
<text x="650.80" y="34.10" font-size="11" fill="#1e1e1e" >2</text>
<text x="529.80" y="156.30" font-size="11" fill="#1e1e1e"><tspan font-style="italic">T</tspan><tspan font-size="8" dy="-4.6">2</tspan><tspan dy="4.6"> (K</tspan><tspan font-size="8" dy="-4.6">2</tspan><tspan dy="4.6">)</tspan></text>
<text transform="translate(679.2,103.2) rotate(-90)" font-size="11.5" fill="#1e1e1e"><tspan font-style="italic">κT</tspan><tspan font-size="9" dy="-4.6">-1</tspan><tspan dy="4.6"> (WK</tspan><tspan font-size="9" dy="-4.6">-2</tspan><tspan dy="4.6">m</tspan><tspan font-size="9" dy="-4.6">-1</tspan><tspan dy="4.6">)</tspan></text>
<text x="553.20" y="24.00" font-size="21" fill="#000" font-weight="bold" >c</text>
<text x="568.60" y="111.80" font-size="11.2" fill="#1e1e1e" >sample no.2</text>
<text x="592.4" y="86.4" font-size="10.5" fill="#1e1e1e"><tspan font-style="italic">κ</tspan><tspan font-size="7.5" dy="2.6" font-style="italic">a</tspan></text>
<polyline points="443.30,130.60 443.37,130.45 443.47,130.23 443.63,129.95 443.90,129.60 444.27,129.15 444.74,128.61 445.31,128.04 446.00,127.50 446.83,127.03 447.79,126.58 448.85,126.11 450.00,125.60 451.18,125.04 452.41,124.44 453.81,123.80 455.50,123.10 457.46,122.41 459.66,121.72 462.14,120.89 465.00,119.80 468.13,118.46 471.53,116.91 475.42,115.11 480.00,113.00 485.78,110.35 492.50,107.25 499.22,104.15 505.00,101.50 509.34,99.52 512.81,97.95 516.13,96.45 520.00,94.70 524.65,92.60 529.69,90.32 534.88,87.96 540.00,85.60 545.12,83.17 550.31,80.67 555.35,78.23 560.00,76.00 563.63,74.31 566.56,72.99 569.96,71.43 575.00,69.00 582.27,65.43 591.06,61.08 600.57,56.32 610.00,51.50 620.18,46.15 631.19,40.26 641.10,34.91 648.00,31.20" fill="none" stroke="#2050f0" stroke-width="1.9" stroke-linejoin="round" stroke-linecap="round" />
<polyline points="443.30,130.60 443.37,130.41 443.47,130.15 443.63,129.82 443.90,129.44 444.27,128.99 444.74,128.47 445.31,127.92 446.00,127.40 446.83,126.93 447.79,126.48 448.85,126.01 450.00,125.49 451.18,124.93 452.41,124.35 453.81,123.71 455.50,122.99 457.46,122.26 459.66,121.51 462.14,120.61 465.00,119.45 468.13,118.04 471.53,116.43 475.42,114.56 480.00,112.40 485.78,109.71 492.50,106.58 499.22,103.46 505.00,100.78 509.34,98.78 512.81,97.18 516.13,95.65 520.00,93.88 524.65,91.75 529.69,89.45 534.88,87.06 540.00,84.67 545.12,82.21 550.31,79.67 555.35,77.19 560.00,74.93 563.63,73.22 566.56,71.88 569.96,70.29 575.00,67.84 582.27,64.24 591.06,59.87 600.57,55.09 610.00,50.24 620.18,44.85 631.19,38.91 641.10,33.53 648.00,29.78" fill="none" stroke="#18a0f0" stroke-width="1.9" stroke-linejoin="round" stroke-linecap="round" />
<polyline points="443.30,130.60 443.37,130.39 443.47,130.09 443.63,129.72 443.90,129.32 444.27,128.87 444.74,128.37 445.31,127.84 446.00,127.33 446.83,126.86 447.79,126.40 448.85,125.93 450.00,125.41 451.18,124.86 452.41,124.27 453.81,123.64 455.50,122.91 457.46,122.15 459.66,121.34 462.14,120.39 465.00,119.18 468.13,117.72 471.53,116.06 475.42,114.14 480.00,111.93 485.78,109.21 492.50,106.06 499.22,102.93 505.00,100.23 509.34,98.20 512.81,96.58 516.13,95.04 520.00,93.24 524.65,91.09 529.69,88.77 534.88,86.36 540.00,83.95 545.12,81.46 550.31,78.90 555.35,76.39 560.00,74.11 563.63,72.37 566.56,71.01 569.96,69.40 575.00,66.94 582.27,63.32 591.06,58.94 600.57,54.13 610.00,49.26 620.18,43.84 631.19,37.87 641.10,32.45 648.00,28.69" fill="none" stroke="#14c4c8" stroke-width="1.9" stroke-linejoin="round" stroke-linecap="round" />
<polyline points="443.30,130.60 443.37,130.36 443.47,130.02 443.63,129.61 443.90,129.19 444.27,128.74 444.74,128.25 445.31,127.74 446.00,127.25 446.83,126.78 447.79,126.32 448.85,125.84 450.00,125.32 451.18,124.77 452.41,124.20 453.81,123.56 455.50,122.82 457.46,122.02 459.66,121.16 462.14,120.15 465.00,118.88 468.13,117.37 471.53,115.64 475.42,113.67 480.00,111.42 485.78,108.66 492.50,105.49 499.22,102.33 505.00,99.61 509.34,97.56 512.81,95.92 516.13,94.35 520.00,92.53 524.65,90.36 529.69,88.02 534.88,85.59 540.00,83.15 545.12,80.64 550.31,78.04 555.35,75.51 560.00,73.19 563.63,71.44 566.56,70.05 569.96,68.43 575.00,65.94 582.27,62.31 591.06,57.90 600.57,53.08 610.00,48.19 620.18,42.73 631.19,36.72 641.10,31.27 648.00,27.48" fill="none" stroke="#14d0a0" stroke-width="1.9" stroke-linejoin="round" stroke-linecap="round" />
<polyline points="443.30,130.60 443.37,130.32 443.47,129.93 443.63,129.48 443.90,129.03 444.27,128.58 444.74,128.11 445.31,127.62 446.00,127.14 446.83,126.67 447.79,126.21 448.85,125.73 450.00,125.21 451.18,124.66 452.41,124.10 453.81,123.46 455.50,122.71 457.46,121.86 459.66,120.93 462.14,119.85 465.00,118.51 468.13,116.92 471.53,115.12 475.42,113.09 480.00,110.77 485.78,107.98 492.50,104.78 499.22,101.59 505.00,98.84 509.34,96.77 512.81,95.09 516.13,93.50 520.00,91.65 524.65,89.45 529.69,87.08 534.88,84.62 540.00,82.15 545.12,79.61 550.31,76.97 555.35,74.40 560.00,72.05 563.63,70.26 566.56,68.86 569.96,67.21 575.00,64.69 582.27,61.04 591.06,56.61 600.57,51.76 610.00,46.83 620.18,41.34 631.19,35.28 641.10,29.78 648.00,25.96" fill="none" stroke="#18c818" stroke-width="1.9" stroke-linejoin="round" stroke-linecap="round" />
<polyline points="443.30,130.60 443.37,130.28 443.47,129.83 443.63,129.31 443.90,128.83 444.27,128.38 444.74,127.93 445.31,127.48 446.00,127.02 446.83,126.55 447.79,126.09 448.85,125.60 450.00,125.07 451.18,124.53 452.41,123.98 453.81,123.35 455.50,122.57 457.46,121.67 459.66,120.66 462.14,119.48 465.00,118.06 468.13,116.39 471.53,114.51 475.42,112.39 480.00,110.01 485.78,107.16 492.50,103.92 499.22,100.71 505.00,97.93 509.34,95.81 512.81,94.11 516.13,92.48 520.00,90.59 524.65,88.36 529.69,85.96 534.88,83.47 540.00,80.96 545.12,78.37 550.31,75.69 555.35,73.07 560.00,70.69 563.63,68.87 566.56,67.43 569.96,65.75 575.00,63.20 582.27,59.52 591.06,55.06 600.57,50.18 610.00,45.22 620.18,39.68 631.19,33.56 641.10,28.01 648.00,24.15" fill="none" stroke="#b8e860" stroke-width="1.9" stroke-linejoin="round" stroke-linecap="round" />
<polyline points="443.30,130.60 443.37,130.18 443.47,129.57 443.63,128.91 443.90,128.33 444.27,127.89 444.74,127.50 445.31,127.12 446.00,126.71 446.83,126.25 447.79,125.77 448.85,125.27 450.00,124.73 451.18,124.20 452.41,123.68 453.81,123.06 455.50,122.23 457.46,121.19 459.66,119.98 462.14,118.58 465.00,116.95 468.13,115.07 471.53,112.96 475.42,110.64 480.00,108.08 485.78,105.11 492.50,101.78 499.22,98.49 505.00,95.63 509.34,93.43 512.81,91.64 516.13,89.93 520.00,87.96 524.65,85.65 529.69,83.16 534.88,80.59 540.00,77.99 545.12,75.29 550.31,72.50 555.35,69.77 560.00,67.28 563.63,65.37 566.56,63.85 569.96,62.10 575.00,59.48 582.27,55.73 591.06,51.20 600.57,46.24 610.00,41.19 620.18,35.52 631.19,29.26 641.10,23.57 648.00,19.62" fill="none" stroke="#e8a830" stroke-width="1.9" stroke-linejoin="round" stroke-linecap="round" />
<polyline points="443.30,130.60 443.37,130.11 443.47,129.39 443.63,128.63 443.90,128.00 444.27,127.56 444.74,127.21 445.31,126.88 446.00,126.50 446.83,126.05 447.79,125.56 448.85,125.05 450.00,124.50 451.18,123.99 452.41,123.49 453.81,122.87 455.50,122.00 457.46,120.87 459.66,119.53 462.14,117.98 465.00,116.20 468.13,114.18 471.53,111.93 475.42,109.47 480.00,106.80 485.78,103.74 492.50,100.36 499.22,97.01 505.00,94.10 509.34,91.84 512.81,89.99 516.13,88.22 520.00,86.20 524.65,83.83 529.69,81.29 534.88,78.66 540.00,76.00 545.12,73.24 550.31,70.36 555.35,67.56 560.00,65.00 563.63,63.04 566.56,61.47 569.96,59.67 575.00,57.00 582.27,53.19 591.06,48.62 600.57,43.61 610.00,38.50 620.18,32.75 631.19,26.39 641.10,20.61 648.00,16.60" fill="none" stroke="#f07a28" stroke-width="1.9" stroke-linejoin="round" stroke-linecap="round" />
<polyline points="443.30,132.20 443.36,131.63 443.42,130.81 443.52,129.88 443.67,128.96 443.90,128.20 444.19,127.61 444.54,127.12 444.95,126.67 445.43,126.24 446.00,125.80 446.65,125.35 447.39,124.92 448.20,124.50 449.07,124.06 450.00,123.60 450.94,123.16 451.90,122.74 452.94,122.29 454.12,121.73 455.50,121.00 457.06,120.10 458.75,119.08 460.61,117.93 462.68,116.64 465.00,115.20 467.49,113.62 470.12,111.90 473.02,110.03 476.27,108.03 480.00,105.90 484.52,103.50 489.76,100.83 495.24,98.10 500.48,95.47 505.00,93.07 508.56,91.14 511.48,89.54 514.12,88.08 516.84,86.56 520.00,84.77 523.68,82.68 527.64,80.44 531.76,78.08 535.92,75.63 540.00,73.13 544.08,70.47 548.24,67.62 552.36,64.76 556.32,62.03 560.00,59.60 563.00,57.84 565.40,56.54 567.80,55.29 570.80,53.68 575.00,51.30 580.67,47.97 587.42,43.96 594.82,39.54 602.49,34.96 610.00,30.50 618.02,25.76 626.81,20.58 635.39,15.52 642.78,11.17 648.00,8.10" fill="none" stroke="#c80c0c" stroke-width="1.9" stroke-linejoin="round" stroke-linecap="round" stroke-dasharray="3.5,2.5"/>
<rect x="442.10" y="126.31" width="3.0" height="3.0" fill="#fff" fill-opacity="0.6" stroke="#dc1a1a" stroke-width="0.85"/>
<rect x="443.40" y="123.62" width="3.0" height="3.0" fill="#fff" fill-opacity="0.6" stroke="#dc1a1a" stroke-width="0.85"/>
<rect x="444.70" y="122.56" width="3.0" height="3.0" fill="#fff" fill-opacity="0.6" stroke="#dc1a1a" stroke-width="0.85"/>
<rect x="446.00" y="121.77" width="3.0" height="3.0" fill="#fff" fill-opacity="0.6" stroke="#dc1a1a" stroke-width="0.85"/>
<rect x="447.30" y="121.10" width="3.0" height="3.0" fill="#fff" fill-opacity="0.6" stroke="#dc1a1a" stroke-width="0.85"/>
<rect x="448.60" y="120.45" width="3.0" height="3.0" fill="#fff" fill-opacity="0.6" stroke="#dc1a1a" stroke-width="0.85"/>
<rect x="449.90" y="119.86" width="3.0" height="3.0" fill="#fff" fill-opacity="0.6" stroke="#dc1a1a" stroke-width="0.85"/>
<rect x="451.20" y="119.29" width="3.0" height="3.0" fill="#fff" fill-opacity="0.6" stroke="#dc1a1a" stroke-width="0.85"/>
<rect x="452.50" y="118.69" width="3.0" height="3.0" fill="#fff" fill-opacity="0.6" stroke="#dc1a1a" stroke-width="0.85"/>
<rect x="453.80" y="118.01" width="3.0" height="3.0" fill="#fff" fill-opacity="0.6" stroke="#dc1a1a" stroke-width="0.85"/>
<rect x="455.10" y="117.26" width="3.0" height="3.0" fill="#fff" fill-opacity="0.6" stroke="#dc1a1a" stroke-width="0.85"/>
<rect x="456.40" y="116.49" width="3.0" height="3.0" fill="#fff" fill-opacity="0.6" stroke="#dc1a1a" stroke-width="0.85"/>
<rect x="457.70" y="115.70" width="3.0" height="3.0" fill="#fff" fill-opacity="0.6" stroke="#dc1a1a" stroke-width="0.85"/>
<rect x="459.00" y="114.89" width="3.0" height="3.0" fill="#fff" fill-opacity="0.6" stroke="#dc1a1a" stroke-width="0.85"/>
<rect x="460.30" y="114.09" width="3.0" height="3.0" fill="#fff" fill-opacity="0.6" stroke="#dc1a1a" stroke-width="0.85"/>
<rect x="461.60" y="113.28" width="3.0" height="3.0" fill="#fff" fill-opacity="0.6" stroke="#dc1a1a" stroke-width="0.85"/>
<rect x="462.90" y="112.47" width="3.0" height="3.0" fill="#fff" fill-opacity="0.6" stroke="#dc1a1a" stroke-width="0.85"/>
<rect x="464.20" y="111.66" width="3.0" height="3.0" fill="#fff" fill-opacity="0.6" stroke="#dc1a1a" stroke-width="0.85"/>
<rect x="465.50" y="110.83" width="3.0" height="3.0" fill="#fff" fill-opacity="0.6" stroke="#dc1a1a" stroke-width="0.85"/>
<rect x="466.80" y="109.99" width="3.0" height="3.0" fill="#fff" fill-opacity="0.6" stroke="#dc1a1a" stroke-width="0.85"/>
<rect x="468.10" y="109.14" width="3.0" height="3.0" fill="#fff" fill-opacity="0.6" stroke="#dc1a1a" stroke-width="0.85"/>
<rect x="469.40" y="108.30" width="3.0" height="3.0" fill="#fff" fill-opacity="0.6" stroke="#dc1a1a" stroke-width="0.85"/>
<rect x="470.70" y="107.46" width="3.0" height="3.0" fill="#fff" fill-opacity="0.6" stroke="#dc1a1a" stroke-width="0.85"/>
<rect x="472.00" y="106.64" width="3.0" height="3.0" fill="#fff" fill-opacity="0.6" stroke="#dc1a1a" stroke-width="0.85"/>
<rect x="473.30" y="105.84" width="3.0" height="3.0" fill="#fff" fill-opacity="0.6" stroke="#dc1a1a" stroke-width="0.85"/>
<rect x="474.60" y="105.04" width="3.0" height="3.0" fill="#fff" fill-opacity="0.6" stroke="#dc1a1a" stroke-width="0.85"/>
<rect x="475.90" y="104.29" width="3.0" height="3.0" fill="#fff" fill-opacity="0.6" stroke="#dc1a1a" stroke-width="0.85"/>
<rect x="477.20" y="103.54" width="3.0" height="3.0" fill="#fff" fill-opacity="0.6" stroke="#dc1a1a" stroke-width="0.85"/>
<rect x="478.50" y="102.80" width="3.0" height="3.0" fill="#fff" fill-opacity="0.6" stroke="#dc1a1a" stroke-width="0.85"/>
<rect x="479.80" y="102.11" width="3.0" height="3.0" fill="#fff" fill-opacity="0.6" stroke="#dc1a1a" stroke-width="0.85"/>
<rect x="481.10" y="101.42" width="3.0" height="3.0" fill="#fff" fill-opacity="0.6" stroke="#dc1a1a" stroke-width="0.85"/>
<rect x="482.40" y="100.73" width="3.0" height="3.0" fill="#fff" fill-opacity="0.6" stroke="#dc1a1a" stroke-width="0.85"/>
<rect x="483.70" y="100.05" width="3.0" height="3.0" fill="#fff" fill-opacity="0.6" stroke="#dc1a1a" stroke-width="0.85"/>
<rect x="485.00" y="99.39" width="3.0" height="3.0" fill="#fff" fill-opacity="0.6" stroke="#dc1a1a" stroke-width="0.85"/>
<rect x="486.30" y="98.73" width="3.0" height="3.0" fill="#fff" fill-opacity="0.6" stroke="#dc1a1a" stroke-width="0.85"/>
<rect x="487.60" y="98.07" width="3.0" height="3.0" fill="#fff" fill-opacity="0.6" stroke="#dc1a1a" stroke-width="0.85"/>
<rect x="488.90" y="97.41" width="3.0" height="3.0" fill="#fff" fill-opacity="0.6" stroke="#dc1a1a" stroke-width="0.85"/>
<rect x="490.20" y="96.77" width="3.0" height="3.0" fill="#fff" fill-opacity="0.6" stroke="#dc1a1a" stroke-width="0.85"/>
<rect x="491.50" y="96.12" width="3.0" height="3.0" fill="#fff" fill-opacity="0.6" stroke="#dc1a1a" stroke-width="0.85"/>
<rect x="492.80" y="95.47" width="3.0" height="3.0" fill="#fff" fill-opacity="0.6" stroke="#dc1a1a" stroke-width="0.85"/>
<rect x="494.10" y="94.82" width="3.0" height="3.0" fill="#fff" fill-opacity="0.6" stroke="#dc1a1a" stroke-width="0.85"/>
<rect x="495.40" y="94.17" width="3.0" height="3.0" fill="#fff" fill-opacity="0.6" stroke="#dc1a1a" stroke-width="0.85"/>
<rect x="496.70" y="93.52" width="3.0" height="3.0" fill="#fff" fill-opacity="0.6" stroke="#dc1a1a" stroke-width="0.85"/>
<rect x="498.00" y="92.88" width="3.0" height="3.0" fill="#fff" fill-opacity="0.6" stroke="#dc1a1a" stroke-width="0.85"/>
<rect x="499.30" y="92.23" width="3.0" height="3.0" fill="#fff" fill-opacity="0.6" stroke="#dc1a1a" stroke-width="0.85"/>
<rect x="500.64" y="91.55" width="3.0" height="3.0" fill="#fff" fill-opacity="0.6" stroke="#dc1a1a" stroke-width="0.85"/>
<rect x="502.05" y="90.84" width="3.0" height="3.0" fill="#fff" fill-opacity="0.6" stroke="#dc1a1a" stroke-width="0.85"/>
<rect x="503.52" y="90.09" width="3.0" height="3.0" fill="#fff" fill-opacity="0.6" stroke="#dc1a1a" stroke-width="0.85"/>
<rect x="505.08" y="89.29" width="3.0" height="3.0" fill="#fff" fill-opacity="0.6" stroke="#dc1a1a" stroke-width="0.85"/>
<rect x="506.70" y="88.45" width="3.0" height="3.0" fill="#fff" fill-opacity="0.6" stroke="#dc1a1a" stroke-width="0.85"/>
<rect x="508.41" y="87.56" width="3.0" height="3.0" fill="#fff" fill-opacity="0.6" stroke="#dc1a1a" stroke-width="0.85"/>
<rect x="510.21" y="86.63" width="3.0" height="3.0" fill="#fff" fill-opacity="0.6" stroke="#dc1a1a" stroke-width="0.85"/>
<rect x="512.10" y="85.64" width="3.0" height="3.0" fill="#fff" fill-opacity="0.6" stroke="#dc1a1a" stroke-width="0.85"/>
<rect x="514.08" y="84.58" width="3.0" height="3.0" fill="#fff" fill-opacity="0.6" stroke="#dc1a1a" stroke-width="0.85"/>
<rect x="516.15" y="83.47" width="3.0" height="3.0" fill="#fff" fill-opacity="0.6" stroke="#dc1a1a" stroke-width="0.85"/>
<rect x="518.34" y="82.29" width="3.0" height="3.0" fill="#fff" fill-opacity="0.6" stroke="#dc1a1a" stroke-width="0.85"/>
<rect x="520.88" y="81.30" width="2.5" height="2.5" fill="#fff" fill-opacity="0.6" stroke="#dc1a1a" stroke-width="0.85"/>
<rect x="523.29" y="80.00" width="2.5" height="2.5" fill="#fff" fill-opacity="0.6" stroke="#dc1a1a" stroke-width="0.85"/>
<rect x="525.81" y="78.64" width="2.5" height="2.5" fill="#fff" fill-opacity="0.6" stroke="#dc1a1a" stroke-width="0.85"/>
<rect x="528.47" y="77.20" width="2.5" height="2.5" fill="#fff" fill-opacity="0.6" stroke="#dc1a1a" stroke-width="0.85"/>
<rect x="531.25" y="75.66" width="2.5" height="2.5" fill="#fff" fill-opacity="0.6" stroke="#dc1a1a" stroke-width="0.85"/>
<rect x="534.18" y="74.02" width="2.5" height="2.5" fill="#fff" fill-opacity="0.6" stroke="#dc1a1a" stroke-width="0.85"/>
<rect x="537.25" y="72.23" width="2.5" height="2.5" fill="#fff" fill-opacity="0.6" stroke="#dc1a1a" stroke-width="0.85"/>
<rect x="540.47" y="70.27" width="2.5" height="2.5" fill="#fff" fill-opacity="0.6" stroke="#dc1a1a" stroke-width="0.85"/>
<rect x="543.86" y="68.12" width="2.5" height="2.5" fill="#fff" fill-opacity="0.6" stroke="#dc1a1a" stroke-width="0.85"/>
<rect x="547.41" y="65.78" width="2.5" height="2.5" fill="#fff" fill-opacity="0.6" stroke="#dc1a1a" stroke-width="0.85"/>
<rect x="551.15" y="63.28" width="2.5" height="2.5" fill="#fff" fill-opacity="0.6" stroke="#dc1a1a" stroke-width="0.85"/>
<rect x="555.07" y="60.68" width="2.5" height="2.5" fill="#fff" fill-opacity="0.6" stroke="#dc1a1a" stroke-width="0.85"/>
<rect x="559.18" y="58.10" width="2.5" height="2.5" fill="#fff" fill-opacity="0.6" stroke="#dc1a1a" stroke-width="0.85"/>
<rect x="563.50" y="55.64" width="2.5" height="2.5" fill="#fff" fill-opacity="0.6" stroke="#dc1a1a" stroke-width="0.85"/>
<rect x="568.04" y="53.24" width="2.5" height="2.5" fill="#fff" fill-opacity="0.6" stroke="#dc1a1a" stroke-width="0.85"/>
<rect x="572.81" y="50.59" width="2.5" height="2.5" fill="#fff" fill-opacity="0.6" stroke="#dc1a1a" stroke-width="0.85"/>
<rect x="577.81" y="47.66" width="2.5" height="2.5" fill="#fff" fill-opacity="0.6" stroke="#dc1a1a" stroke-width="0.85"/>
<rect x="583.06" y="44.55" width="2.5" height="2.5" fill="#fff" fill-opacity="0.6" stroke="#dc1a1a" stroke-width="0.85"/>
<rect x="588.58" y="41.27" width="2.5" height="2.5" fill="#fff" fill-opacity="0.6" stroke="#dc1a1a" stroke-width="0.85"/>
<rect x="594.37" y="37.81" width="2.5" height="2.5" fill="#fff" fill-opacity="0.6" stroke="#dc1a1a" stroke-width="0.85"/>
<rect x="600.17" y="34.35" width="2.5" height="2.5" fill="#fff" fill-opacity="0.6" stroke="#dc1a1a" stroke-width="0.85"/>
<rect x="605.97" y="30.90" width="2.5" height="2.5" fill="#fff" fill-opacity="0.6" stroke="#dc1a1a" stroke-width="0.85"/>
<rect x="611.77" y="27.47" width="2.5" height="2.5" fill="#fff" fill-opacity="0.6" stroke="#dc1a1a" stroke-width="0.85"/>
<rect x="617.57" y="24.04" width="2.5" height="2.5" fill="#fff" fill-opacity="0.6" stroke="#dc1a1a" stroke-width="0.85"/>
<rect x="623.37" y="20.62" width="2.5" height="2.5" fill="#fff" fill-opacity="0.6" stroke="#dc1a1a" stroke-width="0.85"/>
<rect x="629.17" y="17.20" width="2.5" height="2.5" fill="#fff" fill-opacity="0.6" stroke="#dc1a1a" stroke-width="0.85"/>
<rect x="634.97" y="13.79" width="2.5" height="2.5" fill="#fff" fill-opacity="0.6" stroke="#dc1a1a" stroke-width="0.85"/>
<rect x="640.77" y="10.37" width="2.5" height="2.5" fill="#fff" fill-opacity="0.6" stroke="#dc1a1a" stroke-width="0.85"/>
<rect x="445.30" y="2.30" width="90.50" height="68.80" stroke="#9a9a9a" fill="#fff" stroke-width="0.9"/>
<text x="452.20" y="14.60" font-size="11.2" fill="#1e1e1e"><tspan font-style="italic">μ</tspan><tspan font-size="8" dy="2.6">0</tspan><tspan dy="-2.6" font-style="italic">H</tspan><tspan font-size="7" dy="-4.6" font-style="italic">y</tspan><tspan dy="4.6" dx="-0.6"> =</tspan></text>
<line x1="492.90" y1="10.50" x2="516.90" y2="10.50" stroke="#2050f0" stroke-width="2.3" stroke-linecap="round"/>
<text x="534.30" y="14.50" font-size="11" text-anchor="end" fill="#1e1e1e" >8 T</text>
<line x1="446.80" y1="25.40" x2="470.80" y2="25.40" stroke="#18a0f0" stroke-width="2.3" stroke-linecap="round"/>
<text x="488.20" y="29.40" font-size="11" text-anchor="end" fill="#1e1e1e" >7 T</text>
<line x1="492.90" y1="25.40" x2="516.90" y2="25.40" stroke="#14c4c8" stroke-width="2.3" stroke-linecap="round"/>
<text x="534.30" y="29.40" font-size="11" text-anchor="end" fill="#1e1e1e" >6 T</text>
<line x1="446.80" y1="38.30" x2="470.80" y2="38.30" stroke="#14d0a0" stroke-width="2.3" stroke-linecap="round"/>
<text x="488.20" y="42.30" font-size="11" text-anchor="end" fill="#1e1e1e" >5 T</text>
<line x1="492.90" y1="38.30" x2="516.90" y2="38.30" stroke="#18c818" stroke-width="2.3" stroke-linecap="round"/>
<text x="534.30" y="42.30" font-size="11" text-anchor="end" fill="#1e1e1e" >4 T</text>
<line x1="446.80" y1="51.20" x2="470.80" y2="51.20" stroke="#98dc3a" stroke-width="2.3" stroke-linecap="round"/>
<text x="488.20" y="55.20" font-size="11" text-anchor="end" fill="#1e1e1e" >3 T</text>
<line x1="492.90" y1="51.20" x2="516.90" y2="51.20" stroke="#e8a830" stroke-width="2.3" stroke-linecap="round"/>
<text x="534.30" y="55.20" font-size="11" text-anchor="end" fill="#1e1e1e" >2 T</text>
<line x1="446.80" y1="64.10" x2="470.80" y2="64.10" stroke="#f07a28" stroke-width="2.3" stroke-linecap="round"/>
<text x="488.20" y="68.10" font-size="11" text-anchor="end" fill="#1e1e1e" >1 T</text>
<rect x="503.60" y="62.80" width="2.6" height="2.6" fill="#fff" stroke="#e02828" stroke-width="0.8"/>
<text x="534.30" y="68.10" font-size="11" text-anchor="end" fill="#1e1e1e" >0 T</text>
<rect x="35.80" y="162.00" width="191.50" height="130.10" stroke="#3a3a3a" fill="none" stroke-width="1.05"/>
<line x1="71.70" y1="292.10" x2="71.70" y2="289.10" stroke="#3a3a3a" stroke-width="1" />
<line x1="71.70" y1="162.00" x2="71.70" y2="165.00" stroke="#3a3a3a" stroke-width="1" />
<line x1="116.20" y1="292.10" x2="116.20" y2="289.10" stroke="#3a3a3a" stroke-width="1" />
<line x1="116.20" y1="162.00" x2="116.20" y2="165.00" stroke="#3a3a3a" stroke-width="1" />
<line x1="160.70" y1="292.10" x2="160.70" y2="289.10" stroke="#3a3a3a" stroke-width="1" />
<line x1="160.70" y1="162.00" x2="160.70" y2="165.00" stroke="#3a3a3a" stroke-width="1" />
<line x1="205.20" y1="292.10" x2="205.20" y2="289.10" stroke="#3a3a3a" stroke-width="1" />
<line x1="205.20" y1="162.00" x2="205.20" y2="165.00" stroke="#3a3a3a" stroke-width="1" />
<line x1="36.10" y1="292.10" x2="36.10" y2="290.50" stroke="#3a3a3a" stroke-width="1" />
<line x1="36.10" y1="162.00" x2="36.10" y2="163.60" stroke="#3a3a3a" stroke-width="1" />
<line x1="45.00" y1="292.10" x2="45.00" y2="290.50" stroke="#3a3a3a" stroke-width="1" />
<line x1="45.00" y1="162.00" x2="45.00" y2="163.60" stroke="#3a3a3a" stroke-width="1" />
<line x1="53.90" y1="292.10" x2="53.90" y2="290.50" stroke="#3a3a3a" stroke-width="1" />
<line x1="53.90" y1="162.00" x2="53.90" y2="163.60" stroke="#3a3a3a" stroke-width="1" />
<line x1="62.80" y1="292.10" x2="62.80" y2="290.50" stroke="#3a3a3a" stroke-width="1" />
<line x1="62.80" y1="162.00" x2="62.80" y2="163.60" stroke="#3a3a3a" stroke-width="1" />
<line x1="80.60" y1="292.10" x2="80.60" y2="290.50" stroke="#3a3a3a" stroke-width="1" />
<line x1="80.60" y1="162.00" x2="80.60" y2="163.60" stroke="#3a3a3a" stroke-width="1" />
<line x1="89.50" y1="292.10" x2="89.50" y2="290.50" stroke="#3a3a3a" stroke-width="1" />
<line x1="89.50" y1="162.00" x2="89.50" y2="163.60" stroke="#3a3a3a" stroke-width="1" />
<line x1="98.40" y1="292.10" x2="98.40" y2="290.50" stroke="#3a3a3a" stroke-width="1" />
<line x1="98.40" y1="162.00" x2="98.40" y2="163.60" stroke="#3a3a3a" stroke-width="1" />
<line x1="107.30" y1="292.10" x2="107.30" y2="290.50" stroke="#3a3a3a" stroke-width="1" />
<line x1="107.30" y1="162.00" x2="107.30" y2="163.60" stroke="#3a3a3a" stroke-width="1" />
<line x1="125.10" y1="292.10" x2="125.10" y2="290.50" stroke="#3a3a3a" stroke-width="1" />
<line x1="125.10" y1="162.00" x2="125.10" y2="163.60" stroke="#3a3a3a" stroke-width="1" />
<line x1="134.00" y1="292.10" x2="134.00" y2="290.50" stroke="#3a3a3a" stroke-width="1" />
<line x1="134.00" y1="162.00" x2="134.00" y2="163.60" stroke="#3a3a3a" stroke-width="1" />
<line x1="142.90" y1="292.10" x2="142.90" y2="290.50" stroke="#3a3a3a" stroke-width="1" />
<line x1="142.90" y1="162.00" x2="142.90" y2="163.60" stroke="#3a3a3a" stroke-width="1" />
<line x1="151.80" y1="292.10" x2="151.80" y2="290.50" stroke="#3a3a3a" stroke-width="1" />
<line x1="151.80" y1="162.00" x2="151.80" y2="163.60" stroke="#3a3a3a" stroke-width="1" />
<line x1="169.60" y1="292.10" x2="169.60" y2="290.50" stroke="#3a3a3a" stroke-width="1" />
<line x1="169.60" y1="162.00" x2="169.60" y2="163.60" stroke="#3a3a3a" stroke-width="1" />
<line x1="178.50" y1="292.10" x2="178.50" y2="290.50" stroke="#3a3a3a" stroke-width="1" />
<line x1="178.50" y1="162.00" x2="178.50" y2="163.60" stroke="#3a3a3a" stroke-width="1" />
<line x1="187.40" y1="292.10" x2="187.40" y2="290.50" stroke="#3a3a3a" stroke-width="1" />
<line x1="187.40" y1="162.00" x2="187.40" y2="163.60" stroke="#3a3a3a" stroke-width="1" />
<line x1="196.30" y1="292.10" x2="196.30" y2="290.50" stroke="#3a3a3a" stroke-width="1" />
<line x1="196.30" y1="162.00" x2="196.30" y2="163.60" stroke="#3a3a3a" stroke-width="1" />
<line x1="214.10" y1="292.10" x2="214.10" y2="290.50" stroke="#3a3a3a" stroke-width="1" />
<line x1="214.10" y1="162.00" x2="214.10" y2="163.60" stroke="#3a3a3a" stroke-width="1" />
<line x1="223.00" y1="292.10" x2="223.00" y2="290.50" stroke="#3a3a3a" stroke-width="1" />
<line x1="223.00" y1="162.00" x2="223.00" y2="163.60" stroke="#3a3a3a" stroke-width="1" />
<line x1="35.80" y1="287.80" x2="38.80" y2="287.80" stroke="#3a3a3a" stroke-width="1" />
<line x1="227.30" y1="287.80" x2="224.30" y2="287.80" stroke="#3a3a3a" stroke-width="1" />
<line x1="35.80" y1="250.70" x2="38.80" y2="250.70" stroke="#3a3a3a" stroke-width="1" />
<line x1="227.30" y1="250.70" x2="224.30" y2="250.70" stroke="#3a3a3a" stroke-width="1" />
<line x1="35.80" y1="213.60" x2="38.80" y2="213.60" stroke="#3a3a3a" stroke-width="1" />
<line x1="227.30" y1="213.60" x2="224.30" y2="213.60" stroke="#3a3a3a" stroke-width="1" />
<line x1="35.80" y1="176.50" x2="38.80" y2="176.50" stroke="#3a3a3a" stroke-width="1" />
<line x1="227.30" y1="176.50" x2="224.30" y2="176.50" stroke="#3a3a3a" stroke-width="1" />
<line x1="35.80" y1="280.38" x2="37.40" y2="280.38" stroke="#3a3a3a" stroke-width="1" />
<line x1="227.30" y1="280.38" x2="225.70" y2="280.38" stroke="#3a3a3a" stroke-width="1" />
<line x1="35.80" y1="272.96" x2="37.40" y2="272.96" stroke="#3a3a3a" stroke-width="1" />
<line x1="227.30" y1="272.96" x2="225.70" y2="272.96" stroke="#3a3a3a" stroke-width="1" />
<line x1="35.80" y1="265.54" x2="37.40" y2="265.54" stroke="#3a3a3a" stroke-width="1" />
<line x1="227.30" y1="265.54" x2="225.70" y2="265.54" stroke="#3a3a3a" stroke-width="1" />
<line x1="35.80" y1="258.12" x2="37.40" y2="258.12" stroke="#3a3a3a" stroke-width="1" />
<line x1="227.30" y1="258.12" x2="225.70" y2="258.12" stroke="#3a3a3a" stroke-width="1" />
<line x1="35.80" y1="243.28" x2="37.40" y2="243.28" stroke="#3a3a3a" stroke-width="1" />
<line x1="227.30" y1="243.28" x2="225.70" y2="243.28" stroke="#3a3a3a" stroke-width="1" />
<line x1="35.80" y1="235.86" x2="37.40" y2="235.86" stroke="#3a3a3a" stroke-width="1" />
<line x1="227.30" y1="235.86" x2="225.70" y2="235.86" stroke="#3a3a3a" stroke-width="1" />
<line x1="35.80" y1="228.44" x2="37.40" y2="228.44" stroke="#3a3a3a" stroke-width="1" />
<line x1="227.30" y1="228.44" x2="225.70" y2="228.44" stroke="#3a3a3a" stroke-width="1" />
<line x1="35.80" y1="221.02" x2="37.40" y2="221.02" stroke="#3a3a3a" stroke-width="1" />
<line x1="227.30" y1="221.02" x2="225.70" y2="221.02" stroke="#3a3a3a" stroke-width="1" />
<line x1="35.80" y1="206.18" x2="37.40" y2="206.18" stroke="#3a3a3a" stroke-width="1" />
<line x1="227.30" y1="206.18" x2="225.70" y2="206.18" stroke="#3a3a3a" stroke-width="1" />
<line x1="35.80" y1="198.76" x2="37.40" y2="198.76" stroke="#3a3a3a" stroke-width="1" />
<line x1="227.30" y1="198.76" x2="225.70" y2="198.76" stroke="#3a3a3a" stroke-width="1" />
<line x1="35.80" y1="191.34" x2="37.40" y2="191.34" stroke="#3a3a3a" stroke-width="1" />
<line x1="227.30" y1="191.34" x2="225.70" y2="191.34" stroke="#3a3a3a" stroke-width="1" />
<line x1="35.80" y1="183.92" x2="37.40" y2="183.92" stroke="#3a3a3a" stroke-width="1" />
<line x1="227.30" y1="183.92" x2="225.70" y2="183.92" stroke="#3a3a3a" stroke-width="1" />
<line x1="35.80" y1="169.08" x2="37.40" y2="169.08" stroke="#3a3a3a" stroke-width="1" />
<line x1="227.30" y1="169.08" x2="225.70" y2="169.08" stroke="#3a3a3a" stroke-width="1" />
<text x="71.70" y="304.50" font-size="11" text-anchor="middle" fill="#1e1e1e" >0.5</text>
<text x="116.20" y="304.50" font-size="11" text-anchor="middle" fill="#1e1e1e" >1.0</text>
<text x="160.70" y="304.50" font-size="11" text-anchor="middle" fill="#1e1e1e" >1.5</text>
<text x="205.20" y="304.50" font-size="11" text-anchor="middle" fill="#1e1e1e" >2.0</text>
<text x="33.00" y="180.50" font-size="11" text-anchor="end" fill="#1e1e1e" >1.0</text>
<text x="33.00" y="217.60" font-size="11" text-anchor="end" fill="#1e1e1e" >0.5</text>
<text x="33.00" y="254.70" font-size="11" text-anchor="end" fill="#1e1e1e" >0.0</text>
<text x="33.00" y="291.80" font-size="11" text-anchor="end" fill="#1e1e1e" >-0.5</text>
<text x="119.7" y="318.3" font-size="11.5" fill="#1e1e1e"><tspan font-style="italic">T</tspan> (K)</text>
<line x1="89.50" y1="162.00" x2="89.50" y2="292.10" stroke="#7a7a7a" stroke-width="1.3" stroke-dasharray="4.5,3"/>
<text x="94.00" y="194.50" font-size="11.2" fill="#8a8a8a" >0.7 K</text>
<text x="193.00" y="189.20" font-size="21" fill="#000" font-weight="bold" >d</text>
<text x="178.60" y="218.60" font-size="11.2" fill="#2040f0" >8 T</text>
<text x="189.60" y="265.80" font-size="11.2" fill="#f07a28" >1 T</text>
<line x1="184.80" y1="255.40" x2="175.00" y2="222.80" stroke="#333" stroke-width="0.9" />
<polygon points="174.2,219.6 172.8,224.4 176.7,223.3" fill="#333"/>
<text transform="translate(12.90,271.50) rotate(-90)" font-size="11" fill="#1e1e1e"><tspan font-style="italic">κ</tspan><tspan font-size="8" dy="2.6" font-style="italic">a</tspan><tspan dy="-2.6">(0 T)/</tspan><tspan font-style="italic">κ</tspan><tspan font-size="8" dy="2.6" font-style="italic">a</tspan><tspan dy="-2.6">(</tspan><tspan font-style="italic">μ</tspan><tspan font-size="8" dy="2.6">0</tspan><tspan dy="-2.6" font-style="italic">H</tspan><tspan font-size="7.5" dy="-4.6" font-style="italic">y</tspan><tspan dy="4.6">)−1</tspan></text>
<g clip-path="url(#clipd)">
<polyline points="36.00,192.00 36.24,201.85 36.59,215.93 37.00,230.00 37.43,243.93 37.91,257.85 38.50,268.00 39.24,272.37 40.09,272.96 41.00,272.00 41.96,269.85 42.98,266.15 44.00,262.00 45.04,257.30 46.07,252.15 47.00,248.00 47.76,245.54 48.41,244.09 49.00,243.00 49.54,242.03 50.02,241.42 50.50,241.30 50.94,241.90 51.39,242.99 52.00,244.00 52.81,244.81 53.80,245.54 55.00,246.00 56.48,245.98 58.19,245.69 60.00,245.50 62.00,245.70 64.11,246.02 66.00,246.00 67.52,245.20 68.81,244.07 70.00,243.50 70.93,244.07 71.74,245.20 73.00,246.00 74.93,246.00 77.30,245.67 80.00,245.50 83.11,245.81 86.56,246.28 90.00,246.50 93.15,246.16 96.30,245.56 100.00,245.20 104.63,245.37 109.81,245.77 115.00,246.00 120.00,245.79 125.00,245.41 130.00,245.20 135.00,245.41 140.00,245.79 145.00,246.00 150.00,245.79 155.00,245.41 160.00,245.20 165.00,245.41 170.00,245.79 175.00,246.00 180.00,245.79 185.00,245.41 190.00,245.20 194.74,245.41 199.48,245.79 205.00,246.00 212.63,245.82 221.04,245.47 227.00,245.20" fill="none" stroke="#f07a28" stroke-width="1.8" stroke-linejoin="round" stroke-linecap="round" />
<polyline points="36.00,195.00 36.39,207.04 36.94,224.07 37.50,240.00 37.98,253.59 38.46,266.07 39.00,275.00 39.59,279.07 40.24,279.59 41.00,278.00 41.93,274.37 42.96,268.63 44.00,262.00 45.04,253.98 46.07,245.07 47.00,238.00 47.74,233.91 48.37,231.65 49.00,230.50 49.63,230.46 50.26,231.54 51.00,233.00 51.81,234.89 52.74,237.17 54.00,239.00 55.78,240.02 57.89,240.59 60.00,241.00 62.07,241.41 64.15,241.65 66.00,241.50 67.52,240.54 68.81,239.19 70.00,238.50 70.93,239.19 71.74,240.54 73.00,241.50 74.93,241.54 77.30,241.19 80.00,241.00 83.11,241.29 86.56,241.75 90.00,242.00 93.15,241.77 96.30,241.33 100.00,241.10 104.63,241.35 109.81,241.80 115.00,242.08 120.00,241.93 125.00,241.60 130.00,241.45 135.00,241.72 140.00,242.17 145.00,242.43 150.00,242.28 155.00,241.96 160.00,241.81 165.00,242.08 170.00,242.52 175.00,242.79 180.00,242.64 185.00,242.31 190.00,242.16 194.74,242.43 199.48,242.87 205.00,243.14 212.63,243.05 221.04,242.80 227.00,242.60" fill="none" stroke="#e8a830" stroke-width="1.8" stroke-linejoin="round" stroke-linecap="round" />
<polyline points="36.00,200.00 36.39,213.63 36.94,232.81 37.50,250.00 37.98,263.15 38.46,274.30 39.00,282.00 39.59,285.33 40.24,285.22 41.00,283.00 41.93,278.52 42.96,271.93 44.00,265.00 45.04,257.74 46.07,250.15 47.00,244.00 47.74,240.09 48.37,237.63 49.00,236.00 49.63,235.17 50.26,235.17 51.00,235.50 51.81,236.17 52.74,237.17 54.00,238.00 55.78,238.46 57.89,238.76 60.00,239.00 62.07,239.33 64.15,239.61 66.00,239.50 67.52,238.54 68.81,237.19 70.00,236.50 70.93,237.19 71.74,238.54 73.00,239.50 74.93,239.54 77.30,239.19 80.00,239.00 83.11,239.29 86.56,239.74 90.00,240.00 93.15,239.81 96.30,239.42 100.00,239.20 104.63,239.39 109.81,239.75 115.00,239.98 120.00,239.88 125.00,239.65 130.00,239.55 135.00,239.77 140.00,240.12 145.00,240.33 150.00,240.23 155.00,240.01 160.00,239.91 165.00,240.12 170.00,240.47 175.00,240.69 180.00,240.59 185.00,240.36 190.00,240.26 194.74,240.47 199.48,240.82 205.00,241.04 212.63,241.00 221.04,240.83 227.00,240.70" fill="none" stroke="#a8e050" stroke-width="1.8" stroke-linejoin="round" stroke-linecap="round" />
<polyline points="36.00,205.00 36.41,218.70 36.98,237.96 37.50,255.00 37.85,267.56 38.15,277.89 38.50,285.00 38.91,288.41 39.37,288.59 40.00,286.00 40.89,280.22 41.94,271.67 43.00,262.00 44.02,250.67 45.04,238.22 46.00,228.00 46.84,221.52 47.63,217.27 48.50,214.00 49.57,211.34 50.71,209.66 51.70,208.90 52.40,209.21 52.94,210.43 53.50,212.00 54.15,213.85 54.83,216.05 55.50,218.30 56.18,220.57 56.86,222.88 57.50,225.00 58.05,226.77 58.56,228.36 59.20,230.00 60.01,231.96 60.94,233.98 62.00,235.50 63.28,236.37 64.70,236.74 66.00,236.50 67.09,235.48 68.07,233.85 69.00,232.00 69.89,229.54 70.72,226.85 71.50,225.50 72.19,226.44 72.81,228.72 73.50,231.00 74.17,233.02 74.89,235.04 76.00,236.50 77.67,237.06 79.72,237.06 82.00,237.00 84.44,237.05 87.11,237.05 90.00,237.00 93.00,236.84 96.22,236.64 100.00,236.60 104.63,236.90 109.81,237.36 115.00,237.64 120.00,237.51 125.00,237.20 130.00,237.07 135.00,237.36 140.00,237.82 145.00,238.11 150.00,237.98 155.00,237.67 160.00,237.54 165.00,237.83 170.00,238.29 175.00,238.58 180.00,238.45 185.00,238.15 190.00,238.02 194.74,238.30 199.48,238.76 205.00,239.05 212.63,239.00 221.04,238.77 227.00,238.60" fill="none" stroke="#18c818" stroke-width="1.8" stroke-linejoin="round" stroke-linecap="round" />
<polyline points="36.00,210.00 36.54,213.74 37.30,218.93 38.00,223.00 38.50,225.19 38.94,226.26 39.50,226.00 40.24,224.07 41.09,220.81 42.00,217.00 42.96,212.59 43.98,207.63 45.00,203.00 46.02,198.83 47.04,195.00 48.00,192.00 48.87,190.09 49.69,189.02 50.50,188.50 51.33,188.24 52.17,188.54 53.00,190.00 53.85,193.19 54.70,197.54 55.50,202.00 56.18,206.19 56.82,210.48 57.60,215.00 58.65,220.20 59.85,225.63 61.00,230.00 61.92,232.74 62.79,234.43 64.00,235.50 65.78,235.93 67.89,235.74 70.00,235.50 72.00,235.43 74.00,235.30 76.00,235.00 78.00,234.50 80.00,233.83 82.00,233.00 84.07,231.72 86.15,230.28 88.00,229.50 89.33,229.92 90.44,231.00 92.00,232.00 94.11,232.65 96.67,233.22 100.00,233.70 104.48,234.12 109.74,234.45 115.00,234.65 120.00,234.62 125.00,234.45 130.00,234.41 135.00,234.68 140.00,235.09 145.00,235.36 150.00,235.33 155.00,235.15 160.00,235.12 165.00,235.39 170.00,235.80 175.00,236.07 180.00,236.03 185.00,235.86 190.00,235.83 194.74,236.09 199.48,236.49 205.00,236.78 212.63,236.83 221.04,236.76 227.00,236.70" fill="none" stroke="#14d0a0" stroke-width="1.8" stroke-linejoin="round" stroke-linecap="round" />
<polyline points="36.00,203.00 36.38,207.17 36.92,213.00 37.50,218.00 38.04,221.72 38.62,224.61 39.30,225.50 40.12,223.61 41.04,219.72 42.00,215.00 42.98,209.30 43.99,202.76 45.00,197.00 46.02,192.56 47.04,188.89 48.00,186.00 48.89,183.96 49.72,182.70 50.50,182.00 51.19,181.74 51.81,182.04 52.50,183.00 53.28,184.70 54.11,187.07 55.00,190.00 55.97,193.59 56.99,197.74 58.00,202.00 58.97,206.19 59.92,210.48 60.90,215.00 61.92,220.20 62.97,225.63 64.00,230.00 64.90,232.76 65.78,234.46 67.00,235.50 68.74,235.83 70.81,235.50 73.00,235.00 75.22,234.54 77.56,233.91 80.00,233.00 82.74,231.43 85.59,229.57 88.00,228.50 89.48,228.86 90.52,230.00 92.00,231.00 94.11,231.51 96.67,231.87 100.00,232.20 104.48,232.58 109.74,232.93 115.00,233.15 120.00,233.12 125.00,232.95 130.00,232.91 135.00,233.18 140.00,233.59 145.00,233.86 150.00,233.83 155.00,233.65 160.00,233.62 165.00,233.89 170.00,234.30 175.00,234.57 180.00,234.53 185.00,234.36 190.00,234.33 194.74,234.59 199.48,234.99 205.00,235.28 212.63,235.33 221.04,235.26 227.00,235.20" fill="none" stroke="#14c4c8" stroke-width="1.8" stroke-linejoin="round" stroke-linecap="round" />
<polyline points="36.00,207.00 36.26,215.19 36.63,226.81 37.00,238.00 37.30,248.41 37.59,258.37 38.00,265.00 38.59,266.93 39.30,265.52 40.00,262.00 40.65,256.37 41.30,248.63 42.00,240.00 42.80,230.26 43.65,219.63 44.50,210.00 45.33,202.04 46.17,195.07 47.00,189.00 47.84,183.74 48.69,179.36 49.50,176.00 50.25,173.74 50.97,172.49 51.70,172.10 52.43,172.52 53.18,173.81 54.00,176.00 54.93,179.36 55.94,183.63 57.00,188.00 58.14,192.22 59.33,196.56 60.50,201.00 61.62,205.56 62.71,210.22 63.80,215.00 64.88,220.30 65.95,225.70 67.00,230.00 67.90,232.61 68.79,234.11 70.00,235.00 71.78,235.28 73.89,234.94 76.00,234.50 78.00,234.17 80.00,233.72 82.00,233.00 84.04,231.63 86.07,229.98 88.00,229.00 89.67,229.31 91.22,230.28 93.00,231.00 94.89,231.02 97.00,230.79 100.00,230.70 104.41,230.98 109.70,231.42 115.00,231.71 120.00,231.70 125.00,231.54 130.00,231.53 135.00,231.82 140.00,232.25 145.00,232.54 150.00,232.52 155.00,232.37 160.00,232.35 165.00,232.65 170.00,233.07 175.00,233.37 180.00,233.35 185.00,233.20 190.00,233.18 194.74,233.47 199.48,233.89 205.00,234.19 212.63,234.27 221.04,234.24 227.00,234.20" fill="none" stroke="#18a0f0" stroke-width="1.8" stroke-linejoin="round" stroke-linecap="round" />
<polyline points="42.00,272.00 42.50,269.85 43.22,266.59 44.00,262.00 44.80,255.67 45.65,248.00 46.50,240.00 47.34,231.56 48.19,222.78 49.00,215.00 49.77,208.52 50.51,203.04 51.20,199.00 51.79,196.94 52.33,196.32 53.00,196.00 53.94,195.66 55.02,195.63 56.00,195.70 56.76,195.73 57.41,195.88 58.10,196.40 58.87,197.44 59.68,198.87 60.50,200.50 61.33,202.29 62.16,204.28 63.00,206.50 63.85,208.96 64.70,211.65 65.50,214.50 66.23,217.60 66.92,220.86 67.60,224.00 68.26,227.02 68.91,229.92 69.60,232.40 70.35,234.30 71.14,235.79 72.00,237.00 72.92,238.11 73.90,238.96 75.00,239.20 76.22,238.64 77.56,237.47 79.00,236.00 80.61,234.10 82.33,231.88 84.00,230.00 85.57,228.59 87.09,227.52 88.50,227.00 89.57,227.36 90.54,228.28 92.00,229.00 94.07,229.17 96.65,229.14 100.00,229.20 104.48,229.52 109.74,229.93 115.00,230.21 120.00,230.20 125.00,230.04 130.00,230.03 135.00,230.32 140.00,230.75 145.00,231.04 150.00,231.02 155.00,230.87 160.00,230.85 165.00,231.15 170.00,231.57 175.00,231.87 180.00,231.85 185.00,231.70 190.00,231.68 194.74,231.97 199.48,232.39 205.00,232.69 212.63,232.77 221.04,232.74 227.00,232.70" fill="none" stroke="#2050f0" stroke-width="2.0" stroke-linejoin="round" stroke-linecap="round" />
</g>
<rect x="254.40" y="162.50" width="192.20" height="129.60" stroke="#3a3a3a" fill="none" stroke-width="1.05"/>
<line x1="270.80" y1="292.10" x2="270.80" y2="289.10" stroke="#3a3a3a" stroke-width="1" />
<line x1="270.80" y1="162.50" x2="270.80" y2="165.50" stroke="#3a3a3a" stroke-width="1" />
<line x1="350.80" y1="292.10" x2="350.80" y2="289.10" stroke="#3a3a3a" stroke-width="1" />
<line x1="350.80" y1="162.50" x2="350.80" y2="165.50" stroke="#3a3a3a" stroke-width="1" />
<line x1="430.80" y1="292.10" x2="430.80" y2="289.10" stroke="#3a3a3a" stroke-width="1" />
<line x1="430.80" y1="162.50" x2="430.80" y2="165.50" stroke="#3a3a3a" stroke-width="1" />
<line x1="254.80" y1="292.10" x2="254.80" y2="290.50" stroke="#3a3a3a" stroke-width="1" />
<line x1="254.80" y1="162.50" x2="254.80" y2="164.10" stroke="#3a3a3a" stroke-width="1" />
<line x1="286.80" y1="292.10" x2="286.80" y2="290.50" stroke="#3a3a3a" stroke-width="1" />
<line x1="286.80" y1="162.50" x2="286.80" y2="164.10" stroke="#3a3a3a" stroke-width="1" />
<line x1="302.80" y1="292.10" x2="302.80" y2="290.50" stroke="#3a3a3a" stroke-width="1" />
<line x1="302.80" y1="162.50" x2="302.80" y2="164.10" stroke="#3a3a3a" stroke-width="1" />
<line x1="318.80" y1="292.10" x2="318.80" y2="290.50" stroke="#3a3a3a" stroke-width="1" />
<line x1="318.80" y1="162.50" x2="318.80" y2="164.10" stroke="#3a3a3a" stroke-width="1" />
<line x1="334.80" y1="292.10" x2="334.80" y2="290.50" stroke="#3a3a3a" stroke-width="1" />
<line x1="334.80" y1="162.50" x2="334.80" y2="164.10" stroke="#3a3a3a" stroke-width="1" />
<line x1="366.80" y1="292.10" x2="366.80" y2="290.50" stroke="#3a3a3a" stroke-width="1" />
<line x1="366.80" y1="162.50" x2="366.80" y2="164.10" stroke="#3a3a3a" stroke-width="1" />
<line x1="382.80" y1="292.10" x2="382.80" y2="290.50" stroke="#3a3a3a" stroke-width="1" />
<line x1="382.80" y1="162.50" x2="382.80" y2="164.10" stroke="#3a3a3a" stroke-width="1" />
<line x1="398.80" y1="292.10" x2="398.80" y2="290.50" stroke="#3a3a3a" stroke-width="1" />
<line x1="398.80" y1="162.50" x2="398.80" y2="164.10" stroke="#3a3a3a" stroke-width="1" />
<line x1="414.80" y1="292.10" x2="414.80" y2="290.50" stroke="#3a3a3a" stroke-width="1" />
<line x1="414.80" y1="162.50" x2="414.80" y2="164.10" stroke="#3a3a3a" stroke-width="1" />
<line x1="254.40" y1="162.50" x2="257.40" y2="162.50" stroke="#3a3a3a" stroke-width="1" />
<line x1="446.60" y1="162.50" x2="443.60" y2="162.50" stroke="#3a3a3a" stroke-width="1" />
<line x1="254.40" y1="199.20" x2="257.40" y2="199.20" stroke="#3a3a3a" stroke-width="1" />
<line x1="446.60" y1="199.20" x2="443.60" y2="199.20" stroke="#3a3a3a" stroke-width="1" />
<line x1="254.40" y1="235.90" x2="257.40" y2="235.90" stroke="#3a3a3a" stroke-width="1" />
<line x1="446.60" y1="235.90" x2="443.60" y2="235.90" stroke="#3a3a3a" stroke-width="1" />
<line x1="254.40" y1="272.60" x2="257.40" y2="272.60" stroke="#3a3a3a" stroke-width="1" />
<line x1="446.60" y1="272.60" x2="443.60" y2="272.60" stroke="#3a3a3a" stroke-width="1" />
<line x1="254.40" y1="291.79" x2="256.00" y2="291.79" stroke="#3a3a3a" stroke-width="1" />
<line x1="446.60" y1="291.79" x2="445.00" y2="291.79" stroke="#3a3a3a" stroke-width="1" />
<line x1="254.40" y1="287.20" x2="256.00" y2="287.20" stroke="#3a3a3a" stroke-width="1" />
<line x1="446.60" y1="287.20" x2="445.00" y2="287.20" stroke="#3a3a3a" stroke-width="1" />
<line x1="254.40" y1="283.65" x2="256.00" y2="283.65" stroke="#3a3a3a" stroke-width="1" />
<line x1="446.60" y1="283.65" x2="445.00" y2="283.65" stroke="#3a3a3a" stroke-width="1" />
<line x1="254.40" y1="280.74" x2="256.00" y2="280.74" stroke="#3a3a3a" stroke-width="1" />
<line x1="446.60" y1="280.74" x2="445.00" y2="280.74" stroke="#3a3a3a" stroke-width="1" />
<line x1="254.40" y1="278.28" x2="256.00" y2="278.28" stroke="#3a3a3a" stroke-width="1" />
<line x1="446.60" y1="278.28" x2="445.00" y2="278.28" stroke="#3a3a3a" stroke-width="1" />
<line x1="254.40" y1="276.16" x2="256.00" y2="276.16" stroke="#3a3a3a" stroke-width="1" />
<line x1="446.60" y1="276.16" x2="445.00" y2="276.16" stroke="#3a3a3a" stroke-width="1" />
<line x1="254.40" y1="274.28" x2="256.00" y2="274.28" stroke="#3a3a3a" stroke-width="1" />
<line x1="446.60" y1="274.28" x2="445.00" y2="274.28" stroke="#3a3a3a" stroke-width="1" />
<line x1="254.40" y1="261.55" x2="256.00" y2="261.55" stroke="#3a3a3a" stroke-width="1" />
<line x1="446.60" y1="261.55" x2="445.00" y2="261.55" stroke="#3a3a3a" stroke-width="1" />
<line x1="254.40" y1="255.09" x2="256.00" y2="255.09" stroke="#3a3a3a" stroke-width="1" />
<line x1="446.60" y1="255.09" x2="445.00" y2="255.09" stroke="#3a3a3a" stroke-width="1" />
<line x1="254.40" y1="250.50" x2="256.00" y2="250.50" stroke="#3a3a3a" stroke-width="1" />
<line x1="446.60" y1="250.50" x2="445.00" y2="250.50" stroke="#3a3a3a" stroke-width="1" />
<line x1="254.40" y1="246.95" x2="256.00" y2="246.95" stroke="#3a3a3a" stroke-width="1" />
<line x1="446.60" y1="246.95" x2="445.00" y2="246.95" stroke="#3a3a3a" stroke-width="1" />
<line x1="254.40" y1="244.04" x2="256.00" y2="244.04" stroke="#3a3a3a" stroke-width="1" />
<line x1="446.60" y1="244.04" x2="445.00" y2="244.04" stroke="#3a3a3a" stroke-width="1" />
<line x1="254.40" y1="241.58" x2="256.00" y2="241.58" stroke="#3a3a3a" stroke-width="1" />
<line x1="446.60" y1="241.58" x2="445.00" y2="241.58" stroke="#3a3a3a" stroke-width="1" />
<line x1="254.40" y1="239.46" x2="256.00" y2="239.46" stroke="#3a3a3a" stroke-width="1" />
<line x1="446.60" y1="239.46" x2="445.00" y2="239.46" stroke="#3a3a3a" stroke-width="1" />
<line x1="254.40" y1="237.58" x2="256.00" y2="237.58" stroke="#3a3a3a" stroke-width="1" />
<line x1="446.60" y1="237.58" x2="445.00" y2="237.58" stroke="#3a3a3a" stroke-width="1" />
<line x1="254.40" y1="224.85" x2="256.00" y2="224.85" stroke="#3a3a3a" stroke-width="1" />
<line x1="446.60" y1="224.85" x2="445.00" y2="224.85" stroke="#3a3a3a" stroke-width="1" />
<line x1="254.40" y1="218.39" x2="256.00" y2="218.39" stroke="#3a3a3a" stroke-width="1" />
<line x1="446.60" y1="218.39" x2="445.00" y2="218.39" stroke="#3a3a3a" stroke-width="1" />
<line x1="254.40" y1="213.80" x2="256.00" y2="213.80" stroke="#3a3a3a" stroke-width="1" />
<line x1="446.60" y1="213.80" x2="445.00" y2="213.80" stroke="#3a3a3a" stroke-width="1" />
<line x1="254.40" y1="210.25" x2="256.00" y2="210.25" stroke="#3a3a3a" stroke-width="1" />
<line x1="446.60" y1="210.25" x2="445.00" y2="210.25" stroke="#3a3a3a" stroke-width="1" />
<line x1="254.40" y1="207.34" x2="256.00" y2="207.34" stroke="#3a3a3a" stroke-width="1" />
<line x1="446.60" y1="207.34" x2="445.00" y2="207.34" stroke="#3a3a3a" stroke-width="1" />
<line x1="254.40" y1="204.88" x2="256.00" y2="204.88" stroke="#3a3a3a" stroke-width="1" />
<line x1="446.60" y1="204.88" x2="445.00" y2="204.88" stroke="#3a3a3a" stroke-width="1" />
<line x1="254.40" y1="202.76" x2="256.00" y2="202.76" stroke="#3a3a3a" stroke-width="1" />
<line x1="446.60" y1="202.76" x2="445.00" y2="202.76" stroke="#3a3a3a" stroke-width="1" />
<line x1="254.40" y1="200.88" x2="256.00" y2="200.88" stroke="#3a3a3a" stroke-width="1" />
<line x1="446.60" y1="200.88" x2="445.00" y2="200.88" stroke="#3a3a3a" stroke-width="1" />
<line x1="254.40" y1="188.15" x2="256.00" y2="188.15" stroke="#3a3a3a" stroke-width="1" />
<line x1="446.60" y1="188.15" x2="445.00" y2="188.15" stroke="#3a3a3a" stroke-width="1" />
<line x1="254.40" y1="181.69" x2="256.00" y2="181.69" stroke="#3a3a3a" stroke-width="1" />
<line x1="446.60" y1="181.69" x2="445.00" y2="181.69" stroke="#3a3a3a" stroke-width="1" />
<line x1="254.40" y1="177.10" x2="256.00" y2="177.10" stroke="#3a3a3a" stroke-width="1" />
<line x1="446.60" y1="177.10" x2="445.00" y2="177.10" stroke="#3a3a3a" stroke-width="1" />
<line x1="254.40" y1="173.55" x2="256.00" y2="173.55" stroke="#3a3a3a" stroke-width="1" />
<line x1="446.60" y1="173.55" x2="445.00" y2="173.55" stroke="#3a3a3a" stroke-width="1" />
<line x1="254.40" y1="170.64" x2="256.00" y2="170.64" stroke="#3a3a3a" stroke-width="1" />
<line x1="446.60" y1="170.64" x2="445.00" y2="170.64" stroke="#3a3a3a" stroke-width="1" />
<line x1="254.40" y1="168.18" x2="256.00" y2="168.18" stroke="#3a3a3a" stroke-width="1" />
<line x1="446.60" y1="168.18" x2="445.00" y2="168.18" stroke="#3a3a3a" stroke-width="1" />
<line x1="254.40" y1="166.06" x2="256.00" y2="166.06" stroke="#3a3a3a" stroke-width="1" />
<line x1="446.60" y1="166.06" x2="445.00" y2="166.06" stroke="#3a3a3a" stroke-width="1" />
<line x1="254.40" y1="164.18" x2="256.00" y2="164.18" stroke="#3a3a3a" stroke-width="1" />
<line x1="446.60" y1="164.18" x2="445.00" y2="164.18" stroke="#3a3a3a" stroke-width="1" />
<text x="270.80" y="304.50" font-size="11" text-anchor="middle" fill="#1e1e1e" >0.5</text>
<text x="350.80" y="304.50" font-size="11" text-anchor="middle" fill="#1e1e1e" >1.0</text>
<text x="430.80" y="304.50" font-size="11" text-anchor="middle" fill="#1e1e1e" >1.5</text>
<text x="252.6" y="166.50" font-size="11" fill="#1e1e1e" text-anchor="end">10<tspan font-size="8" dy="-4.8">0</tspan></text>
<text x="252.6" y="203.20" font-size="11" fill="#1e1e1e" text-anchor="end">10<tspan font-size="8" dy="-4.8">-1</tspan></text>
<text x="252.6" y="239.90" font-size="11" fill="#1e1e1e" text-anchor="end">10<tspan font-size="8" dy="-4.8">-2</tspan></text>
<text x="252.6" y="276.60" font-size="11" fill="#1e1e1e" text-anchor="end">10<tspan font-size="8" dy="-4.8">-3</tspan></text>
<text x="330.2" y="318.1" font-size="11" fill="#1e1e1e">1/<tspan font-style="italic">T</tspan> (K<tspan font-size="8" dy="-4.6">-1</tspan><tspan dy="4.6">)</tspan></text>
<line x1="418.87" y1="162.50" x2="418.87" y2="292.10" stroke="#7a7a7a" stroke-width="1.3" stroke-dasharray="4.5,3"/>
<text x="389.40" y="224.70" font-size="11.2" fill="#8a8a8a" >0.7 K</text>
<text x="349.80" y="209.00" font-size="21" fill="#000" font-weight="bold" >e</text>
<rect x="259.00" y="209.00" width="3" height="3" fill="none" stroke="#f07878" stroke-width="0.85"/>
<rect x="263.00" y="210.20" width="3" height="3" fill="none" stroke="#f07878" stroke-width="0.85"/>
<rect x="265.00" y="211.00" width="3" height="3" fill="none" stroke="#f07878" stroke-width="0.85"/>
<rect x="266.50" y="216.50" width="3" height="3" fill="none" stroke="#f07878" stroke-width="0.85"/>
<rect x="271.10" y="216.00" width="3" height="3" fill="none" stroke="#f07878" stroke-width="0.85"/>
<rect x="273.00" y="221.80" width="3" height="3" fill="none" stroke="#f07878" stroke-width="0.85"/>
<rect x="274.50" y="228.80" width="3" height="3" fill="none" stroke="#f07878" stroke-width="0.85"/>
<rect x="278.10" y="220.50" width="3" height="3" fill="none" stroke="#f07878" stroke-width="0.85"/>
<rect x="281.50" y="217.50" width="3" height="3" fill="none" stroke="#f07878" stroke-width="0.85"/>
<rect x="284.00" y="227.50" width="3" height="3" fill="none" stroke="#f07878" stroke-width="0.85"/>
<rect x="287.50" y="220.50" width="3" height="3" fill="none" stroke="#f07878" stroke-width="0.85"/>
<rect x="292.10" y="221.80" width="3" height="3" fill="none" stroke="#f07878" stroke-width="0.85"/>
<rect x="295.50" y="231.10" width="3" height="3" fill="none" stroke="#f07878" stroke-width="0.85"/>
<rect x="296.80" y="238.10" width="3" height="3" fill="none" stroke="#f07878" stroke-width="0.85"/>
<rect x="298.50" y="242.30" width="3" height="3" fill="none" stroke="#f07878" stroke-width="0.85"/>
<rect x="302.50" y="231.10" width="3" height="3" fill="none" stroke="#f07878" stroke-width="0.85"/>
<rect x="307.30" y="230.00" width="3" height="3" fill="none" stroke="#f07878" stroke-width="0.85"/>
<rect x="308.50" y="232.30" width="3" height="3" fill="none" stroke="#f07878" stroke-width="0.85"/>
<rect x="311.90" y="237.70" width="3" height="3" fill="none" stroke="#f07878" stroke-width="0.85"/>
<rect x="313.50" y="240.50" width="3" height="3" fill="none" stroke="#f07878" stroke-width="0.85"/>
<rect x="314.30" y="247.50" width="3" height="3" fill="none" stroke="#f07878" stroke-width="0.85"/>
<rect x="316.50" y="239.30" width="3" height="3" fill="none" stroke="#f07878" stroke-width="0.85"/>
<rect x="320.10" y="240.50" width="3" height="3" fill="none" stroke="#f07878" stroke-width="0.85"/>
<rect x="320.10" y="252.10" width="3" height="3" fill="none" stroke="#f07878" stroke-width="0.85"/>
<rect x="324.80" y="235.80" width="3" height="3" fill="none" stroke="#f07878" stroke-width="0.85"/>
<rect x="326.50" y="230.00" width="3" height="3" fill="none" stroke="#f07878" stroke-width="0.85"/>
<rect x="328.30" y="226.50" width="3" height="3" fill="none" stroke="#f07878" stroke-width="0.85"/>
<rect x="330.50" y="227.50" width="3" height="3" fill="none" stroke="#f07878" stroke-width="0.85"/>
<rect x="332.90" y="234.50" width="3" height="3" fill="none" stroke="#f07878" stroke-width="0.85"/>
<rect x="336.50" y="241.50" width="3" height="3" fill="none" stroke="#f07878" stroke-width="0.85"/>
<rect x="339.90" y="240.50" width="3" height="3" fill="none" stroke="#f07878" stroke-width="0.85"/>
<rect x="343.50" y="238.10" width="3" height="3" fill="none" stroke="#f07878" stroke-width="0.85"/>
<rect x="349.20" y="242.80" width="3" height="3" fill="none" stroke="#f07878" stroke-width="0.85"/>
<rect x="342.00" y="238.30" width="3" height="3" fill="none" stroke="#f07878" stroke-width="0.85"/>
<rect x="344.30" y="237.60" width="3" height="3" fill="none" stroke="#f07878" stroke-width="0.85"/>
<rect x="339.50" y="241.30" width="3" height="3" fill="none" stroke="#f07878" stroke-width="0.85"/>
<rect x="347.80" y="247.60" width="3" height="3" fill="none" stroke="#f07878" stroke-width="0.85"/>
<rect x="349.70" y="242.50" width="3" height="3" fill="none" stroke="#f07878" stroke-width="0.85"/>
<rect x="352.50" y="243.70" width="3" height="3" fill="none" stroke="#f07878" stroke-width="0.85"/>
<rect x="355.30" y="255.30" width="3" height="3" fill="none" stroke="#f07878" stroke-width="0.85"/>
<rect x="357.60" y="248.80" width="3" height="3" fill="none" stroke="#f07878" stroke-width="0.85"/>
<rect x="360.60" y="238.30" width="3" height="3" fill="none" stroke="#f07878" stroke-width="0.85"/>
<rect x="363.70" y="241.30" width="3" height="3" fill="none" stroke="#f07878" stroke-width="0.85"/>
<rect x="366.50" y="242.50" width="3" height="3" fill="none" stroke="#f07878" stroke-width="0.85"/>
<rect x="370.00" y="239.00" width="3" height="3" fill="none" stroke="#f07878" stroke-width="0.85"/>
<rect x="373.00" y="239.50" width="3" height="3" fill="none" stroke="#f07878" stroke-width="0.85"/>
<rect x="376.30" y="234.40" width="3" height="3" fill="none" stroke="#f07878" stroke-width="0.85"/>
<rect x="379.30" y="232.50" width="3" height="3" fill="none" stroke="#f07878" stroke-width="0.85"/>
<rect x="382.80" y="236.00" width="3" height="3" fill="none" stroke="#f07878" stroke-width="0.85"/>
<rect x="386.30" y="244.10" width="3" height="3" fill="none" stroke="#f07878" stroke-width="0.85"/>
<rect x="390.20" y="252.30" width="3" height="3" fill="none" stroke="#f07878" stroke-width="0.85"/>
<rect x="393.30" y="281.90" width="3" height="3" fill="none" stroke="#f07878" stroke-width="0.85"/>
<rect x="269.00" y="214.50" width="3" height="3" fill="none" stroke="#f07878" stroke-width="0.85"/>
<rect x="276.00" y="218.00" width="3" height="3" fill="none" stroke="#f07878" stroke-width="0.85"/>
<rect x="279.50" y="216.70" width="3" height="3" fill="none" stroke="#f07878" stroke-width="0.85"/>
<rect x="285.50" y="223.50" width="3" height="3" fill="none" stroke="#f07878" stroke-width="0.85"/>
<rect x="289.50" y="220.00" width="3" height="3" fill="none" stroke="#f07878" stroke-width="0.85"/>
<rect x="293.50" y="225.00" width="3" height="3" fill="none" stroke="#f07878" stroke-width="0.85"/>
<rect x="305.00" y="230.70" width="3" height="3" fill="none" stroke="#f07878" stroke-width="0.85"/>
<rect x="261.00" y="209.30" width="3" height="3" fill="none" stroke="#f07878" stroke-width="0.85"/>
<line x1="259.80" y1="212.80" x2="415.80" y2="279.40" stroke="#a01414" stroke-width="1.7" />
<rect x="258.05" y="184.42" width="3.5" height="3.5" transform="rotate(45 259.80 186.17)" fill="#fff" stroke="#5f7ef5" stroke-width="0.8"/>
<rect x="259.20" y="184.28" width="3.5" height="3.5" transform="rotate(45 260.95 186.03)" fill="#fff" stroke="#5f7ef5" stroke-width="0.8"/>
<rect x="260.37" y="184.15" width="3.5" height="3.5" transform="rotate(45 262.12 185.90)" fill="#fff" stroke="#5f7ef5" stroke-width="0.8"/>
<rect x="261.57" y="184.01" width="3.5" height="3.5" transform="rotate(45 263.32 185.76)" fill="#fff" stroke="#5f7ef5" stroke-width="0.8"/>
<rect x="262.78" y="183.87" width="3.5" height="3.5" transform="rotate(45 264.53 185.62)" fill="#fff" stroke="#5f7ef5" stroke-width="0.8"/>
<rect x="264.02" y="183.73" width="3.5" height="3.5" transform="rotate(45 265.77 185.48)" fill="#fff" stroke="#5f7ef5" stroke-width="0.8"/>
<rect x="265.29" y="183.59" width="3.5" height="3.5" transform="rotate(45 267.04 185.34)" fill="#fff" stroke="#5f7ef5" stroke-width="0.8"/>
<rect x="266.57" y="183.44" width="3.5" height="3.5" transform="rotate(45 268.32 185.19)" fill="#fff" stroke="#5f7ef5" stroke-width="0.8"/>
<rect x="267.89" y="183.29" width="3.5" height="3.5" transform="rotate(45 269.64 185.04)" fill="#fff" stroke="#5f7ef5" stroke-width="0.8"/>
<rect x="269.22" y="183.15" width="3.5" height="3.5" transform="rotate(45 270.97 184.90)" fill="#fff" stroke="#5f7ef5" stroke-width="0.8"/>
<rect x="270.58" y="183.02" width="3.5" height="3.5" transform="rotate(45 272.33 184.77)" fill="#fff" stroke="#5f7ef5" stroke-width="0.8"/>
<rect x="271.97" y="182.88" width="3.5" height="3.5" transform="rotate(45 273.72 184.63)" fill="#fff" stroke="#5f7ef5" stroke-width="0.8"/>
<rect x="273.39" y="182.74" width="3.5" height="3.5" transform="rotate(45 275.14 184.49)" fill="#fff" stroke="#5f7ef5" stroke-width="0.8"/>
<rect x="274.83" y="182.59" width="3.5" height="3.5" transform="rotate(45 276.58 184.34)" fill="#fff" stroke="#5f7ef5" stroke-width="0.8"/>
<rect x="276.30" y="182.45" width="3.5" height="3.5" transform="rotate(45 278.05 184.20)" fill="#fff" stroke="#5f7ef5" stroke-width="0.8"/>
<rect x="277.79" y="182.30" width="3.5" height="3.5" transform="rotate(45 279.54 184.05)" fill="#fff" stroke="#5f7ef5" stroke-width="0.8"/>
<rect x="279.32" y="182.14" width="3.5" height="3.5" transform="rotate(45 281.07 183.89)" fill="#fff" stroke="#5f7ef5" stroke-width="0.8"/>
<rect x="280.87" y="181.99" width="3.5" height="3.5" transform="rotate(45 282.62 183.74)" fill="#fff" stroke="#5f7ef5" stroke-width="0.8"/>
<rect x="282.46" y="181.83" width="3.5" height="3.5" transform="rotate(45 284.21 183.58)" fill="#fff" stroke="#5f7ef5" stroke-width="0.8"/>
<rect x="284.07" y="181.67" width="3.5" height="3.5" transform="rotate(45 285.82 183.42)" fill="#fff" stroke="#5f7ef5" stroke-width="0.8"/>
<rect x="285.72" y="181.50" width="3.5" height="3.5" transform="rotate(45 287.47 183.25)" fill="#fff" stroke="#5f7ef5" stroke-width="0.8"/>
<rect x="287.39" y="181.34" width="3.5" height="3.5" transform="rotate(45 289.14 183.09)" fill="#fff" stroke="#5f7ef5" stroke-width="0.8"/>
<rect x="289.10" y="181.20" width="3.5" height="3.5" transform="rotate(45 290.85 182.95)" fill="#fff" stroke="#5f7ef5" stroke-width="0.8"/>
<rect x="290.84" y="181.09" width="3.5" height="3.5" transform="rotate(45 292.59 182.84)" fill="#fff" stroke="#5f7ef5" stroke-width="0.8"/>
<rect x="292.61" y="180.99" width="3.5" height="3.5" transform="rotate(45 294.36 182.74)" fill="#fff" stroke="#5f7ef5" stroke-width="0.8"/>
<rect x="294.42" y="180.88" width="3.5" height="3.5" transform="rotate(45 296.17 182.63)" fill="#fff" stroke="#5f7ef5" stroke-width="0.8"/>
<rect x="296.26" y="180.77" width="3.5" height="3.5" transform="rotate(45 298.01 182.52)" fill="#fff" stroke="#5f7ef5" stroke-width="0.8"/>
<rect x="298.14" y="180.66" width="3.5" height="3.5" transform="rotate(45 299.89 182.41)" fill="#fff" stroke="#5f7ef5" stroke-width="0.8"/>
<rect x="300.05" y="180.61" width="3.5" height="3.5" transform="rotate(45 301.80 182.36)" fill="#fff" stroke="#5f7ef5" stroke-width="0.8"/>
<rect x="301.99" y="180.56" width="3.5" height="3.5" transform="rotate(45 303.74 182.31)" fill="#fff" stroke="#5f7ef5" stroke-width="0.8"/>
<rect x="303.98" y="180.51" width="3.5" height="3.5" transform="rotate(45 305.73 182.26)" fill="#fff" stroke="#5f7ef5" stroke-width="0.8"/>
<rect x="306.00" y="180.46" width="3.5" height="3.5" transform="rotate(45 307.75 182.21)" fill="#fff" stroke="#5f7ef5" stroke-width="0.8"/>
<rect x="308.06" y="180.40" width="3.5" height="3.5" transform="rotate(45 309.81 182.15)" fill="#fff" stroke="#5f7ef5" stroke-width="0.8"/>
<rect x="310.16" y="180.35" width="3.5" height="3.5" transform="rotate(45 311.91 182.10)" fill="#fff" stroke="#5f7ef5" stroke-width="0.8"/>
<rect x="312.30" y="180.30" width="3.5" height="3.5" transform="rotate(45 314.05 182.05)" fill="#fff" stroke="#5f7ef5" stroke-width="0.8"/>
<rect x="314.48" y="180.24" width="3.5" height="3.5" transform="rotate(45 316.23 181.99)" fill="#fff" stroke="#5f7ef5" stroke-width="0.8"/>
<rect x="316.71" y="180.19" width="3.5" height="3.5" transform="rotate(45 318.46 181.94)" fill="#fff" stroke="#5f7ef5" stroke-width="0.8"/>
<rect x="318.97" y="180.14" width="3.5" height="3.5" transform="rotate(45 320.72 181.89)" fill="#fff" stroke="#5f7ef5" stroke-width="0.8"/>
<rect x="321.28" y="180.12" width="3.5" height="3.5" transform="rotate(45 323.03 181.87)" fill="#fff" stroke="#5f7ef5" stroke-width="0.8"/>
<rect x="323.63" y="180.10" width="3.5" height="3.5" transform="rotate(45 325.38 181.85)" fill="#fff" stroke="#5f7ef5" stroke-width="0.8"/>
<rect x="326.03" y="180.07" width="3.5" height="3.5" transform="rotate(45 327.78 181.82)" fill="#fff" stroke="#5f7ef5" stroke-width="0.8"/>
<rect x="328.47" y="180.05" width="3.5" height="3.5" transform="rotate(45 330.22 181.80)" fill="#fff" stroke="#5f7ef5" stroke-width="0.8"/>
<rect x="330.96" y="180.02" width="3.5" height="3.5" transform="rotate(45 332.71 181.77)" fill="#fff" stroke="#5f7ef5" stroke-width="0.8"/>
<rect x="333.49" y="180.00" width="3.5" height="3.5" transform="rotate(45 335.24 181.75)" fill="#fff" stroke="#5f7ef5" stroke-width="0.8"/>
<rect x="336.07" y="179.97" width="3.5" height="3.5" transform="rotate(45 337.82 181.72)" fill="#fff" stroke="#5f7ef5" stroke-width="0.8"/>
<rect x="338.71" y="179.95" width="3.5" height="3.5" transform="rotate(45 340.46 181.70)" fill="#fff" stroke="#5f7ef5" stroke-width="0.8"/>
<rect x="341.39" y="179.92" width="3.5" height="3.5" transform="rotate(45 343.14 181.67)" fill="#fff" stroke="#5f7ef5" stroke-width="0.8"/>
<rect x="344.12" y="179.89" width="3.5" height="3.5" transform="rotate(45 345.87 181.64)" fill="#fff" stroke="#5f7ef5" stroke-width="0.8"/>
<rect x="346.91" y="179.86" width="3.5" height="3.5" transform="rotate(45 348.66 181.61)" fill="#fff" stroke="#5f7ef5" stroke-width="0.8"/>
<rect x="349.75" y="179.85" width="3.5" height="3.5" transform="rotate(45 351.50 181.60)" fill="#fff" stroke="#5f7ef5" stroke-width="0.8"/>
<rect x="352.64" y="179.84" width="3.5" height="3.5" transform="rotate(45 354.39 181.59)" fill="#fff" stroke="#5f7ef5" stroke-width="0.8"/>
<rect x="355.59" y="179.83" width="3.5" height="3.5" transform="rotate(45 357.34 181.58)" fill="#fff" stroke="#5f7ef5" stroke-width="0.8"/>
<rect x="358.59" y="179.82" width="3.5" height="3.5" transform="rotate(45 360.34 181.57)" fill="#fff" stroke="#5f7ef5" stroke-width="0.8"/>
<rect x="361.65" y="179.81" width="3.5" height="3.5" transform="rotate(45 363.40 181.56)" fill="#fff" stroke="#5f7ef5" stroke-width="0.8"/>
<rect x="364.77" y="179.79" width="3.5" height="3.5" transform="rotate(45 366.52 181.54)" fill="#fff" stroke="#5f7ef5" stroke-width="0.8"/>
<rect x="367.95" y="179.78" width="3.5" height="3.5" transform="rotate(45 369.70 181.53)" fill="#fff" stroke="#5f7ef5" stroke-width="0.8"/>
<rect x="371.18" y="179.77" width="3.5" height="3.5" transform="rotate(45 372.93 181.52)" fill="#fff" stroke="#5f7ef5" stroke-width="0.8"/>
<rect x="374.48" y="179.76" width="3.5" height="3.5" transform="rotate(45 376.23 181.51)" fill="#fff" stroke="#5f7ef5" stroke-width="0.8"/>
<rect x="377.84" y="179.75" width="3.5" height="3.5" transform="rotate(45 379.59 181.50)" fill="#fff" stroke="#5f7ef5" stroke-width="0.8"/>
<rect x="381.27" y="179.73" width="3.5" height="3.5" transform="rotate(45 383.02 181.48)" fill="#fff" stroke="#5f7ef5" stroke-width="0.8"/>
<rect x="384.76" y="179.70" width="3.5" height="3.5" transform="rotate(45 386.51 181.45)" fill="#fff" stroke="#5f7ef5" stroke-width="0.8"/>
<rect x="388.32" y="179.67" width="3.5" height="3.5" transform="rotate(45 390.07 181.42)" fill="#fff" stroke="#5f7ef5" stroke-width="0.8"/>
<rect x="391.94" y="179.64" width="3.5" height="3.5" transform="rotate(45 393.69 181.39)" fill="#fff" stroke="#5f7ef5" stroke-width="0.8"/>
<rect x="395.64" y="179.61" width="3.5" height="3.5" transform="rotate(45 397.39 181.36)" fill="#fff" stroke="#5f7ef5" stroke-width="0.8"/>
<rect x="399.40" y="179.58" width="3.5" height="3.5" transform="rotate(45 401.15 181.33)" fill="#fff" stroke="#5f7ef5" stroke-width="0.8"/>
<rect x="403.24" y="179.55" width="3.5" height="3.5" transform="rotate(45 404.99 181.30)" fill="#fff" stroke="#5f7ef5" stroke-width="0.8"/>
<rect x="407.15" y="179.16" width="3.5" height="3.5" transform="rotate(45 408.90 180.91)" fill="#fff" stroke="#5f7ef5" stroke-width="0.8"/>
<rect x="411.13" y="178.72" width="3.5" height="3.5" transform="rotate(45 412.88 180.47)" fill="#fff" stroke="#5f7ef5" stroke-width="0.8"/>
<rect x="415.19" y="178.10" width="3.5" height="3.5" transform="rotate(45 416.94 179.85)" fill="#fff" stroke="#5f7ef5" stroke-width="0.8"/>
<rect x="419.32" y="179.18" width="3.5" height="3.5" transform="rotate(45 421.07 180.93)" fill="#fff" stroke="#5f7ef5" stroke-width="0.8"/>
<rect x="423.54" y="180.24" width="3.5" height="3.5" transform="rotate(45 425.29 181.99)" fill="#fff" stroke="#5f7ef5" stroke-width="0.8"/>
<rect x="427.83" y="181.16" width="3.5" height="3.5" transform="rotate(45 429.58 182.91)" fill="#fff" stroke="#5f7ef5" stroke-width="0.8"/>
<rect x="432.21" y="182.04" width="3.5" height="3.5" transform="rotate(45 433.96 183.79)" fill="#fff" stroke="#5f7ef5" stroke-width="0.8"/>
<rect x="436.67" y="182.93" width="3.5" height="3.5" transform="rotate(45 438.42 184.68)" fill="#fff" stroke="#5f7ef5" stroke-width="0.8"/>
<rect x="441.21" y="183.77" width="3.5" height="3.5" transform="rotate(45 442.96 185.52)" fill="#fff" stroke="#5f7ef5" stroke-width="0.8"/>
<line x1="260.50" y1="183.00" x2="412.30" y2="182.70" stroke="#0a1a8a" stroke-width="1.7" />
<text x="258.60" y="257.30" font-size="11.2" fill="#1e1e1e"><tspan font-style="italic">μ</tspan><tspan font-size="8" dy="2.6">0</tspan><tspan dy="-2.6" font-style="italic">H</tspan><tspan font-size="7" dy="-4.6" font-style="italic">y</tspan><tspan dy="4.6" dx="-0.6"> =</tspan></text>
<rect x="256.10" y="261.00" width="86.80" height="29.20" stroke="#8a8a8a" fill="#fff" stroke-width="0.9"/>
<rect x="269.4" y="268.1" width="3.2" height="3.2" transform="rotate(45 271 269.7)" fill="none" stroke="#4466ff" stroke-width="0.75"/>
<rect x="269.6" y="281.2" width="2.8" height="2.8" fill="none" stroke="#f06060" stroke-width="0.75"/>
<text x="283.30" y="273.80" font-size="11.2" fill="#1e1e1e" >8 T</text>
<text x="283.30" y="286.80" font-size="11.2" fill="#1e1e1e" >0 T (earlier)</text>
<rect x="453.30" y="162.40" width="191.10" height="129.70" stroke="#3a3a3a" fill="none" stroke-width="1.05"/>
<line x1="460.60" y1="292.10" x2="460.60" y2="289.10" stroke="#3a3a3a" stroke-width="1" />
<line x1="460.60" y1="162.40" x2="460.60" y2="165.40" stroke="#3a3a3a" stroke-width="1" />
<line x1="511.10" y1="292.10" x2="511.10" y2="289.10" stroke="#3a3a3a" stroke-width="1" />
<line x1="511.10" y1="162.40" x2="511.10" y2="165.40" stroke="#3a3a3a" stroke-width="1" />
<line x1="561.60" y1="292.10" x2="561.60" y2="289.10" stroke="#3a3a3a" stroke-width="1" />
<line x1="561.60" y1="162.40" x2="561.60" y2="165.40" stroke="#3a3a3a" stroke-width="1" />
<line x1="612.10" y1="292.10" x2="612.10" y2="289.10" stroke="#3a3a3a" stroke-width="1" />
<line x1="612.10" y1="162.40" x2="612.10" y2="165.40" stroke="#3a3a3a" stroke-width="1" />
<line x1="485.85" y1="292.10" x2="485.85" y2="290.50" stroke="#3a3a3a" stroke-width="1" />
<line x1="485.85" y1="162.40" x2="485.85" y2="164.00" stroke="#3a3a3a" stroke-width="1" />
<line x1="536.35" y1="292.10" x2="536.35" y2="290.50" stroke="#3a3a3a" stroke-width="1" />
<line x1="536.35" y1="162.40" x2="536.35" y2="164.00" stroke="#3a3a3a" stroke-width="1" />
<line x1="586.85" y1="292.10" x2="586.85" y2="290.50" stroke="#3a3a3a" stroke-width="1" />
<line x1="586.85" y1="162.40" x2="586.85" y2="164.00" stroke="#3a3a3a" stroke-width="1" />
<line x1="637.35" y1="292.10" x2="637.35" y2="290.50" stroke="#3a3a3a" stroke-width="1" />
<line x1="637.35" y1="162.40" x2="637.35" y2="164.00" stroke="#3a3a3a" stroke-width="1" />
<line x1="453.30" y1="269.70" x2="456.30" y2="269.70" stroke="#3a3a3a" stroke-width="1" />
<line x1="644.40" y1="269.70" x2="641.40" y2="269.70" stroke="#3a3a3a" stroke-width="1" />
<line x1="453.30" y1="241.20" x2="456.30" y2="241.20" stroke="#3a3a3a" stroke-width="1" />
<line x1="644.40" y1="241.20" x2="641.40" y2="241.20" stroke="#3a3a3a" stroke-width="1" />
<line x1="453.30" y1="212.70" x2="456.30" y2="212.70" stroke="#3a3a3a" stroke-width="1" />
<line x1="644.40" y1="212.70" x2="641.40" y2="212.70" stroke="#3a3a3a" stroke-width="1" />
<line x1="453.30" y1="184.20" x2="456.30" y2="184.20" stroke="#3a3a3a" stroke-width="1" />
<line x1="644.40" y1="184.20" x2="641.40" y2="184.20" stroke="#3a3a3a" stroke-width="1" />
<text x="460.60" y="304.50" font-size="11" text-anchor="middle" fill="#1e1e1e" >0.00</text>
<text x="511.10" y="304.50" font-size="11" text-anchor="middle" fill="#1e1e1e" >0.02</text>
<text x="561.60" y="304.50" font-size="11" text-anchor="middle" fill="#1e1e1e" >0.04</text>
<text x="612.10" y="304.50" font-size="11" text-anchor="middle" fill="#1e1e1e" >0.06</text>
<text x="647.00" y="273.70" font-size="11" fill="#1e1e1e" >0.0</text>
<text x="647.00" y="245.20" font-size="11" fill="#1e1e1e" >0.1</text>
<text x="647.00" y="216.70" font-size="11" fill="#1e1e1e" >0.2</text>
<text x="647.00" y="188.20" font-size="11" fill="#1e1e1e" >0.3</text>
<text x="537" y="318.2" font-size="12" fill="#1e1e1e"><tspan font-style="italic">Γ</tspan><tspan dx="0.8">(K)</tspan></text>
<text x="472.00" y="189.80" font-size="21" fill="#000" font-weight="bold" >f</text>
<text transform="translate(680.50,273.20) rotate(-90)" font-size="11" fill="#1e1e1e"><tspan font-style="italic">κ</tspan><tspan font-size="8" dy="2.6" font-style="italic">a</tspan><tspan dy="-2.6">(0 T)/</tspan><tspan font-style="italic">κ</tspan><tspan font-size="8" dy="2.6" font-style="italic">a</tspan><tspan dy="-2.6">(</tspan><tspan font-style="italic">μ</tspan><tspan font-size="8" dy="2.6">0</tspan><tspan dy="-2.6" font-style="italic">H</tspan><tspan font-size="7.5" dy="-4.6" font-style="italic">y</tspan><tspan dy="4.6">)−1</tspan></text>
<polyline points="460.60,269.90 461.24,267.97 462.10,265.28 463.14,262.10 464.29,258.73 465.49,255.47 466.70,252.60 467.91,250.07 469.18,247.62 470.50,245.28 471.89,243.06 473.35,240.96 474.90,239.00 476.51,237.22 478.17,235.61 479.91,234.12 481.75,232.73 483.70,231.37 485.80,230.00 488.02,228.66 490.33,227.39 492.76,226.15 495.33,224.93 498.07,223.69 501.00,222.40 504.10,221.09 507.34,219.78 510.74,218.46 514.34,217.10 518.15,215.68 522.20,214.20 526.47,212.55 530.93,210.74 535.61,208.88 540.52,207.08 545.68,205.45 551.10,204.10 556.76,203.12 562.65,202.43 568.79,201.92 575.19,201.46 581.89,200.92 588.90,200.20 596.90,199.20 606.01,198.01 615.41,196.76 624.29,195.55 631.82,194.53 637.20,193.80" fill="none" stroke="#1a8c1a" stroke-width="1.3" stroke-linejoin="round" stroke-linecap="round" />
<polyline points="460.60,269.90 461.24,268.03 462.10,265.43 463.14,262.36 464.29,259.08 465.49,255.87 466.70,253.00 467.91,250.36 469.18,247.73 470.50,245.16 471.89,242.73 473.35,240.48 474.90,238.50 476.51,236.88 478.17,235.59 479.91,234.50 481.75,233.46 483.70,232.34 485.80,231.00 488.13,229.41 490.70,227.67 493.39,225.84 496.09,224.00 498.66,222.20 501.00,220.50 503.09,218.87 505.01,217.26 506.81,215.69 508.55,214.19 510.26,212.78 512.00,211.50 513.70,210.36 515.33,209.33 516.92,208.40 518.56,207.55 520.30,206.75 522.20,206.00 524.28,205.29 526.49,204.66 528.79,204.08 531.17,203.54 533.58,203.06 536.00,202.60 538.18,202.23 540.10,201.96 542.05,201.72 544.34,201.48 547.25,201.16 551.10,200.70 555.96,200.12 561.63,199.46 567.93,198.72 574.68,197.92 581.73,197.04 588.90,196.10 596.90,194.98 606.01,193.66 615.41,192.26 624.29,190.93 631.82,189.80 637.20,189.00" fill="none" stroke="#1a30d0" stroke-width="1.3" stroke-linejoin="round" stroke-linecap="round" />
<polyline points="460.60,269.90 461.24,267.49 462.10,264.04 463.14,260.02 464.29,255.86 465.49,252.00 466.70,248.90 467.91,246.67 469.18,244.96 470.50,243.57 471.89,242.26 473.35,240.81 474.90,239.00 476.51,236.68 478.17,234.01 479.91,231.19 481.75,228.46 483.70,226.02 485.80,224.10 488.02,222.76 490.33,221.84 492.76,221.22 495.33,220.77 498.07,220.37 501.00,219.90 504.10,219.44 507.34,219.10 510.74,218.82 514.34,218.51 518.15,218.09 522.20,217.50 526.47,216.71 530.93,215.77 535.61,214.73 540.52,213.63 545.68,212.51 551.10,211.40 556.76,210.25 562.65,209.01 568.79,207.74 575.19,206.53 581.89,205.42 588.90,204.50 596.90,203.76 606.01,203.16 615.41,202.67 624.29,202.27 631.82,201.96 637.20,201.70" fill="none" stroke="#d01818" stroke-width="1.3" stroke-linejoin="round" stroke-linecap="round" />
<circle cx="460.60" cy="269.90" r="2.5" fill="#1a8c1a"/>
<circle cx="460.00" cy="269.20" r="1.0" fill="#9e9" opacity="0.85"/>
<circle cx="466.70" cy="252.90" r="2.5" fill="#1a8c1a"/>
<circle cx="466.10" cy="252.20" r="1.0" fill="#9e9" opacity="0.85"/>
<circle cx="474.90" cy="238.50" r="2.5" fill="#1a8c1a"/>
<circle cx="474.30" cy="237.80" r="1.0" fill="#9e9" opacity="0.85"/>
<circle cx="485.80" cy="230.30" r="2.5" fill="#1a8c1a"/>
<circle cx="485.20" cy="229.60" r="1.0" fill="#9e9" opacity="0.85"/>
<circle cx="501.00" cy="222.40" r="2.5" fill="#1a8c1a"/>
<circle cx="500.40" cy="221.70" r="1.0" fill="#9e9" opacity="0.85"/>
<circle cx="522.20" cy="214.20" r="2.5" fill="#1a8c1a"/>
<circle cx="521.60" cy="213.50" r="1.0" fill="#9e9" opacity="0.85"/>
<circle cx="551.10" cy="204.10" r="2.5" fill="#1a8c1a"/>
<circle cx="550.50" cy="203.40" r="1.0" fill="#9e9" opacity="0.85"/>
<circle cx="588.90" cy="200.20" r="2.5" fill="#1a8c1a"/>
<circle cx="588.30" cy="199.50" r="1.0" fill="#9e9" opacity="0.85"/>
<circle cx="637.20" cy="193.80" r="2.5" fill="#1a8c1a"/>
<circle cx="636.60" cy="193.10" r="1.0" fill="#9e9" opacity="0.85"/>
<circle cx="460.60" cy="269.90" r="2.5" fill="#1a30d0"/>
<circle cx="460.00" cy="269.20" r="1.0" fill="#aaf" opacity="0.85"/>
<circle cx="466.70" cy="253.40" r="2.5" fill="#1a30d0"/>
<circle cx="466.10" cy="252.70" r="1.0" fill="#aaf" opacity="0.85"/>
<circle cx="474.90" cy="236.50" r="2.5" fill="#1a30d0"/>
<circle cx="474.30" cy="235.80" r="1.0" fill="#aaf" opacity="0.85"/>
<circle cx="485.80" cy="233.50" r="2.5" fill="#1a30d0"/>
<circle cx="485.20" cy="232.80" r="1.0" fill="#aaf" opacity="0.85"/>
<circle cx="501.00" cy="222.40" r="2.5" fill="#1a30d0"/>
<circle cx="500.40" cy="221.70" r="1.0" fill="#aaf" opacity="0.85"/>
<circle cx="522.20" cy="204.50" r="2.5" fill="#1a30d0"/>
<circle cx="521.60" cy="203.80" r="1.0" fill="#aaf" opacity="0.85"/>
<circle cx="551.10" cy="200.70" r="2.5" fill="#1a30d0"/>
<circle cx="550.50" cy="200.00" r="1.0" fill="#aaf" opacity="0.85"/>
<circle cx="588.90" cy="196.10" r="2.5" fill="#1a30d0"/>
<circle cx="588.30" cy="195.40" r="1.0" fill="#aaf" opacity="0.85"/>
<circle cx="637.20" cy="189.00" r="2.5" fill="#1a30d0"/>
<circle cx="636.60" cy="188.30" r="1.0" fill="#aaf" opacity="0.85"/>
<circle cx="460.60" cy="269.90" r="2.5" fill="#d01818"/>
<circle cx="460.00" cy="269.20" r="1.0" fill="#faa" opacity="0.85"/>
<circle cx="466.70" cy="248.90" r="2.5" fill="#d01818"/>
<circle cx="466.10" cy="248.20" r="1.0" fill="#faa" opacity="0.85"/>
<circle cx="474.90" cy="239.00" r="2.5" fill="#d01818"/>
<circle cx="474.30" cy="238.30" r="1.0" fill="#faa" opacity="0.85"/>
<circle cx="485.80" cy="224.10" r="2.5" fill="#d01818"/>
<circle cx="485.20" cy="223.40" r="1.0" fill="#faa" opacity="0.85"/>
<circle cx="501.00" cy="219.90" r="2.5" fill="#d01818"/>
<circle cx="500.40" cy="219.20" r="1.0" fill="#faa" opacity="0.85"/>
<circle cx="522.20" cy="217.50" r="2.5" fill="#d01818"/>
<circle cx="521.60" cy="216.80" r="1.0" fill="#faa" opacity="0.85"/>
<circle cx="551.10" cy="211.40" r="2.5" fill="#d01818"/>
<circle cx="550.50" cy="210.70" r="1.0" fill="#faa" opacity="0.85"/>
<circle cx="588.90" cy="204.50" r="2.5" fill="#d01818"/>
<circle cx="588.30" cy="203.80" r="1.0" fill="#faa" opacity="0.85"/>
<circle cx="637.20" cy="201.70" r="2.5" fill="#d01818"/>
<circle cx="636.60" cy="201.00" r="1.0" fill="#faa" opacity="0.85"/>
<rect x="533.10" y="238.60" width="57.60" height="43.70" stroke="#9a9a9a" fill="#fff" stroke-width="0.9"/>
<line x1="534.30" y1="246.70" x2="559.70" y2="246.70" stroke="#d01818" stroke-width="1.2" />
<circle cx="547.00" cy="246.70" r="2.5" fill="#d01818"/>
<circle cx="546.40" cy="246.00" r="1.0" fill="#faa" opacity="0.85"/>
<text x="563.20" y="250.80" font-size="11.2" fill="#1e1e1e" >2.2 K</text>
<line x1="534.30" y1="260.30" x2="559.70" y2="260.30" stroke="#1a8c1a" stroke-width="1.2" />
<circle cx="547.00" cy="260.30" r="2.5" fill="#1a8c1a"/>
<circle cx="546.40" cy="259.60" r="1.0" fill="#9e9" opacity="0.85"/>
<text x="563.20" y="264.40" font-size="11.2" fill="#1e1e1e" >1.5 K</text>
<line x1="534.30" y1="273.90" x2="559.70" y2="273.90" stroke="#1a30d0" stroke-width="1.2" />
<circle cx="547.00" cy="273.90" r="2.5" fill="#1a30d0"/>
<circle cx="546.40" cy="273.20" r="1.0" fill="#aaf" opacity="0.85"/>
<text x="563.20" y="278.00" font-size="11.2" fill="#1e1e1e" >0.8 K</text>
</svg>
</body></html>
